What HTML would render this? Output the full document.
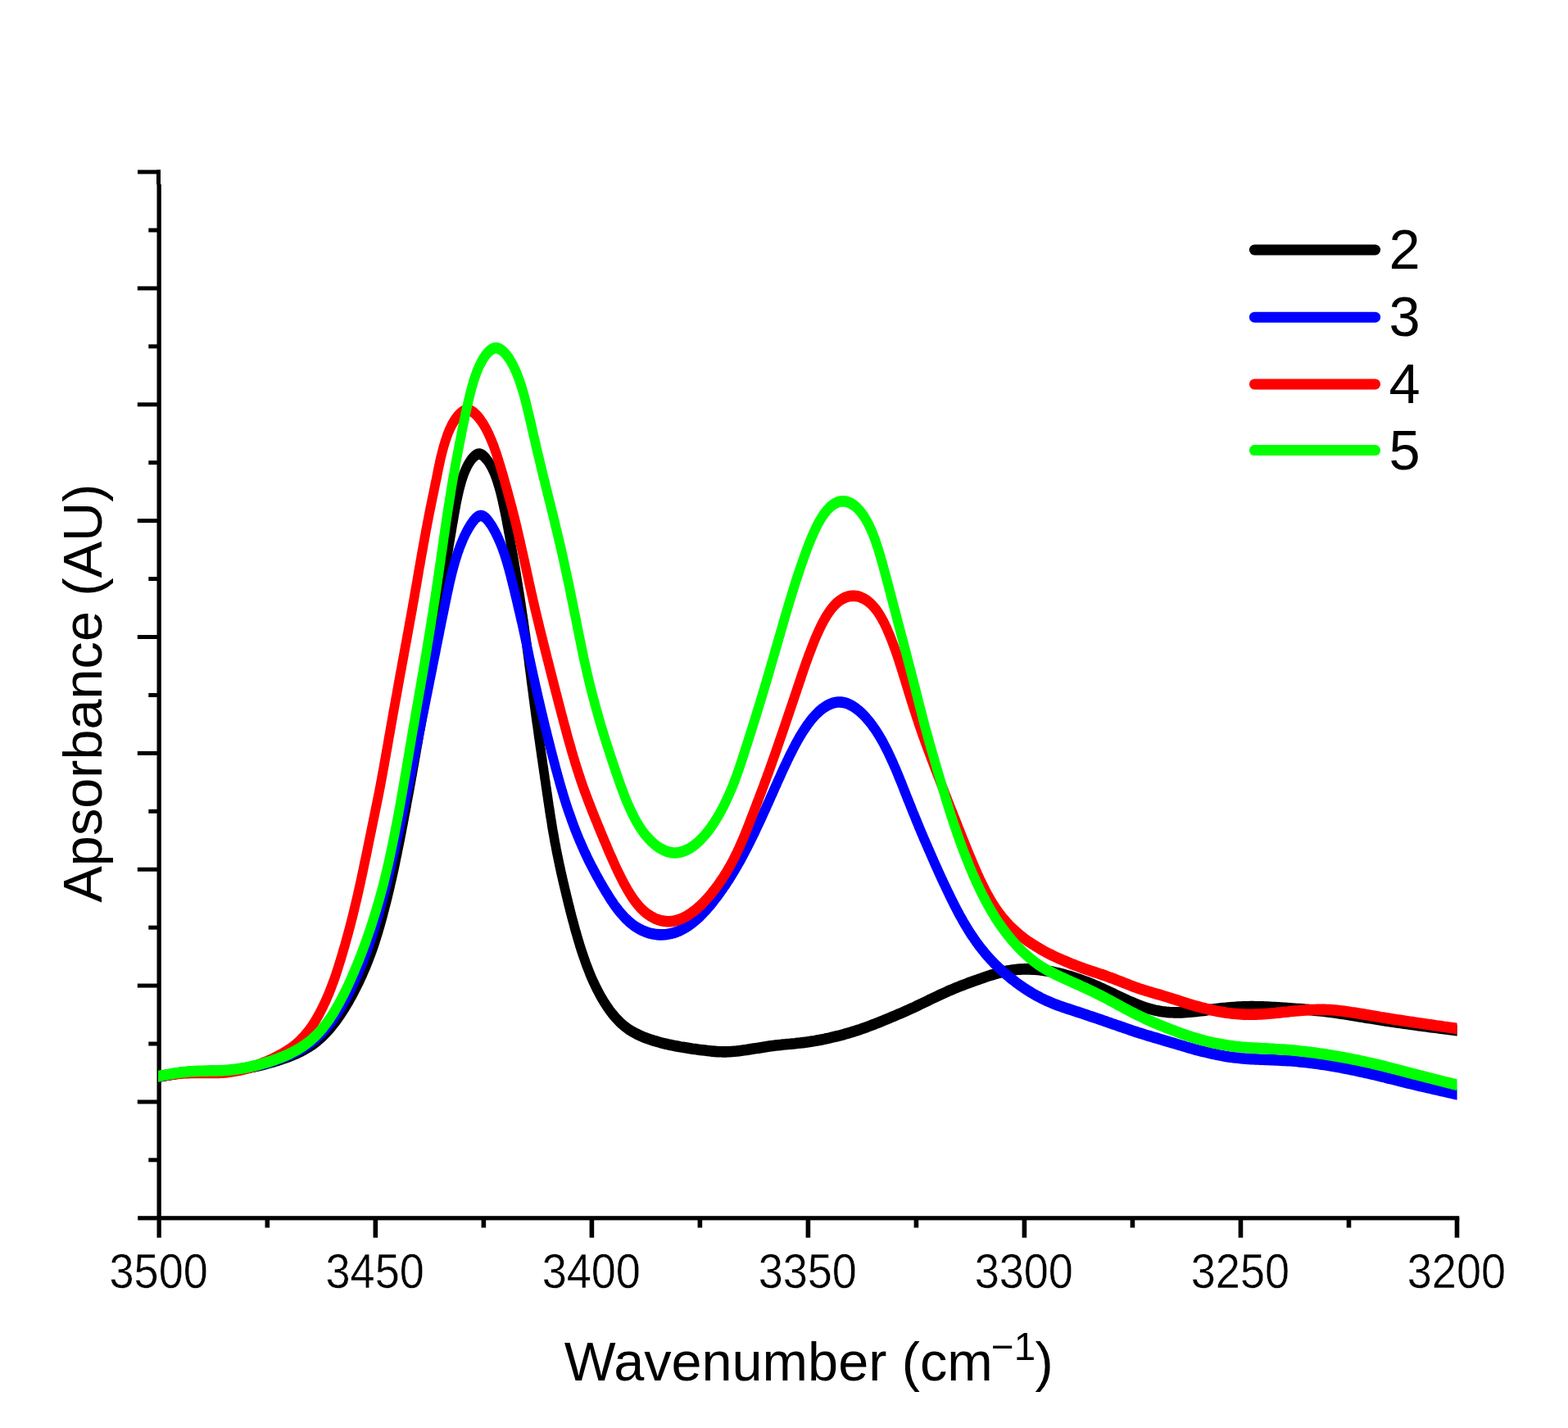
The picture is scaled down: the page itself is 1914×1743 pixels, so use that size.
<!DOCTYPE html>
<html lang="en">
<head>
<meta charset="utf-8">
<title>Absorbance vs Wavenumber</title>
<style>
html,body{margin:0;padding:0;background:#ffffff;}
body{width:1914px;height:1743px;overflow:hidden;font-family:"Liberation Sans",sans-serif;}
svg{display:block;}
</style>
</head>
<body>
<svg width="1914" height="1743" viewBox="0 0 1914 1743" role="img" aria-label="Absorbance versus wavenumber line chart">
<rect width="1914" height="1743" fill="#ffffff"/>
<g fill="#000000" shape-rendering="auto">
<rect x="168" y="207.4" width="28" height="5"/>
<rect x="191" y="207.4" width="5" height="17.8"/>
<rect x="191.50" y="225" width="5.3" height="1285.7"/>
<rect x="168.2" y="1484.20" width="1613.1" height="5.2"/>
<rect x="167.8" y="1342.44" width="26" height="5"/>
<rect x="167.8" y="1200.57" width="26" height="5"/>
<rect x="167.8" y="1058.71" width="26" height="5"/>
<rect x="167.8" y="916.85" width="26" height="5"/>
<rect x="167.8" y="774.99" width="26" height="5"/>
<rect x="167.8" y="633.12" width="26" height="5"/>
<rect x="167.8" y="491.26" width="26" height="5"/>
<rect x="167.8" y="349.40" width="26" height="5"/>
<rect x="181.3" y="1413.37" width="12" height="5"/>
<rect x="181.3" y="1271.51" width="12" height="5"/>
<rect x="181.3" y="1129.64" width="12" height="5"/>
<rect x="181.3" y="987.78" width="12" height="5"/>
<rect x="181.3" y="845.92" width="12" height="5"/>
<rect x="181.3" y="704.06" width="12" height="5"/>
<rect x="181.3" y="562.19" width="12" height="5"/>
<rect x="181.3" y="420.33" width="12" height="5"/>
<rect x="181.3" y="278.47" width="12" height="5"/>
<rect x="455.53" y="1486.8" width="5.6" height="23.9"/>
<rect x="719.57" y="1486.8" width="5.6" height="23.9"/>
<rect x="983.60" y="1486.8" width="5.6" height="23.9"/>
<rect x="1247.63" y="1486.8" width="5.6" height="23.9"/>
<rect x="1511.67" y="1486.8" width="5.6" height="23.9"/>
<rect x="1775.70" y="1486.8" width="5.6" height="23.9"/>
<rect x="323.52" y="1486.8" width="5.6" height="11.7"/>
<rect x="587.55" y="1486.8" width="5.6" height="11.7"/>
<rect x="851.58" y="1486.8" width="5.6" height="11.7"/>
<rect x="1115.62" y="1486.8" width="5.6" height="11.7"/>
<rect x="1379.65" y="1486.8" width="5.6" height="11.7"/>
<rect x="1643.68" y="1486.8" width="5.6" height="11.7"/>
</g>
<clipPath id="c"><rect x="193.1" y="212" width="1585.5" height="1272"/></clipPath>
<g clip-path="url(#c)"><g transform="scale(1,1.17)" fill="none" stroke-linejoin="round" stroke-linecap="butt">
<path d="M185.9,1123.2 L193.9,1123.2 L196.9,1122.7 L199.8,1122.2 L202.8,1121.8 L205.7,1121.3 L208.7,1120.9 L211.6,1120.5 L214.6,1120.1 L217.5,1119.7 L220.5,1119.3 L223.4,1119.0 L226.4,1118.8 L229.4,1118.5 L232.4,1118.3 L235.3,1118.2 L238.3,1118.0 L241.3,1117.9 L244.3,1117.8 L247.3,1117.8 L250.3,1117.7 L253.3,1117.7 L256.3,1117.6 L259.3,1117.6 L262.3,1117.5 L265.3,1117.5 L268.3,1117.4 L271.2,1117.3 L274.2,1117.2 L277.2,1117.0 L280.2,1116.8 L283.2,1116.5 L286.2,1116.3 L289.1,1116.0 L292.1,1115.6 L295.1,1115.3 L298.0,1114.9 L301.0,1114.4 L303.9,1113.9 L306.9,1113.4 L309.8,1112.9 L312.7,1112.3 L315.7,1111.8 L318.6,1111.2 L321.5,1110.5 L324.4,1109.9 L327.3,1109.2 L330.3,1108.5 L333.1,1107.8 L336.0,1107.1 L338.9,1106.3 L341.8,1105.5 L344.7,1104.7 L347.5,1103.9 L350.4,1103.0 L353.2,1102.1 L356.0,1101.2 L358.7,1100.2 L361.5,1099.2 L364.2,1098.2 L366.9,1097.0 L369.5,1095.9 L372.1,1094.7 L374.7,1093.4 L377.2,1092.1 L379.7,1090.7 L382.2,1089.3 L384.5,1087.8 L386.9,1086.3 L389.1,1084.7 L391.4,1083.0 L393.5,1081.3 L395.7,1079.5 L397.7,1077.7 L399.8,1075.9 L401.7,1074.0 L403.7,1072.1 L405.6,1070.1 L407.4,1068.1 L409.3,1066.1 L411.1,1064.0 L412.8,1062.0 L414.5,1059.9 L416.2,1057.7 L417.9,1055.6 L419.5,1053.4 L421.1,1051.2 L422.7,1049.0 L424.2,1046.8 L425.8,1044.6 L427.2,1042.3 L428.7,1040.1 L430.2,1037.8 L431.6,1035.5 L433.0,1033.2 L434.4,1030.9 L435.7,1028.6 L437.1,1026.3 L438.4,1024.0 L439.7,1021.6 L440.9,1019.3 L442.2,1017.0 L443.4,1014.6 L444.6,1012.2 L445.8,1009.9 L447.0,1007.5 L448.1,1005.1 L449.2,1002.7 L450.3,1000.3 L451.4,997.9 L452.5,995.5 L453.5,993.1 L454.5,990.7 L455.5,988.2 L456.5,985.8 L457.4,983.4 L458.3,980.9 L459.2,978.5 L460.1,976.0 L461.0,973.6 L461.9,971.1 L462.7,968.6 L463.6,966.2 L464.4,963.7 L465.2,961.2 L466.0,958.7 L466.8,956.3 L467.6,953.8 L468.3,951.3 L469.1,948.8 L469.8,946.3 L470.6,943.8 L471.3,941.4 L472.1,938.9 L472.8,936.4 L473.5,933.9 L474.2,931.4 L474.9,928.9 L475.6,926.4 L476.3,923.9 L476.9,921.4 L477.6,918.9 L478.3,916.4 L478.9,913.9 L479.6,911.4 L480.2,908.9 L480.9,906.4 L481.5,903.9 L482.1,901.4 L482.7,898.9 L483.3,896.3 L483.9,893.8 L484.6,891.3 L485.1,888.8 L485.7,886.3 L486.3,883.8 L486.9,881.3 L487.5,878.8 L488.1,876.2 L488.7,873.7 L489.2,871.2 L489.8,868.7 L490.4,866.2 L490.9,863.6 L491.5,861.1 L492.1,858.6 L492.6,856.1 L493.2,853.6 L493.7,851.1 L494.3,848.5 L494.9,846.0 L495.4,843.5 L496.0,841.0 L496.5,838.4 L497.0,835.9 L497.6,833.4 L498.1,830.9 L498.7,828.4 L499.2,825.8 L499.8,823.3 L500.3,820.8 L500.8,818.3 L501.4,815.7 L501.9,813.2 L502.4,810.7 L503.0,808.2 L503.5,805.7 L504.0,803.1 L504.5,800.6 L505.1,798.1 L505.6,795.6 L506.1,793.0 L506.6,790.5 L507.2,788.0 L507.7,785.5 L508.2,782.9 L508.7,780.4 L509.2,777.9 L509.8,775.4 L510.3,772.8 L510.8,770.3 L511.3,767.8 L511.8,765.2 L512.3,762.7 L512.9,760.2 L513.4,757.7 L513.9,755.1 L514.4,752.6 L515.0,750.1 L515.5,747.6 L516.0,745.0 L516.5,742.5 L517.1,740.0 L517.6,737.5 L518.1,734.9 L518.6,732.4 L519.2,729.9 L519.7,727.4 L520.2,724.9 L520.7,722.3 L521.2,719.8 L521.8,717.3 L522.3,714.7 L522.8,712.2 L523.3,709.7 L523.8,707.2 L524.3,704.6 L524.8,702.1 L525.3,699.6 L525.8,697.1 L526.2,694.5 L526.7,692.0 L527.2,689.5 L527.6,686.9 L528.1,684.4 L528.5,681.9 L529.0,679.3 L529.4,676.8 L529.9,674.3 L530.3,671.7 L530.7,669.2 L531.2,666.7 L531.6,664.1 L532.0,661.6 L532.4,659.0 L532.9,656.5 L533.3,654.0 L533.7,651.4 L534.1,648.9 L534.5,646.4 L534.9,643.8 L535.3,641.3 L535.8,638.8 L536.2,636.2 L536.6,633.7 L537.0,631.2 L537.4,628.6 L537.8,626.1 L538.2,623.6 L538.6,621.0 L539.1,618.5 L539.5,616.0 L539.9,613.4 L540.3,610.9 L540.8,608.4 L541.2,605.9 L541.6,603.3 L542.1,600.8 L542.5,598.3 L543.0,595.7 L543.5,593.2 L543.9,590.7 L544.4,588.1 L544.9,585.6 L545.4,583.1 L545.9,580.5 L546.3,578.0 L546.8,575.4 L547.3,572.9 L547.8,570.4 L548.3,567.8 L548.8,565.2 L549.3,562.7 L549.8,560.1 L550.3,557.6 L550.8,555.0 L551.3,552.4 L551.8,549.8 L552.3,547.2 L552.9,544.6 L553.4,542.0 L553.9,539.4 L554.4,536.8 L555.0,534.2 L555.5,531.6 L556.1,528.9 L556.6,526.3 L557.2,523.7 L557.9,521.0 L558.5,518.4 L559.2,515.8 L559.9,513.1 L560.6,510.5 L561.4,507.9 L562.2,505.3 L563.0,502.7 L563.9,500.1 L564.9,497.6 L565.9,495.1 L567.0,492.6 L568.2,490.2 L569.5,487.8 L570.8,485.5 L572.3,483.3 L573.9,481.2 L575.6,479.1 L577.4,477.3 L579.4,475.7 L581.4,474.4 L583.4,473.7 L585.5,473.6 L587.6,474.2 L589.7,475.3 L591.6,476.8 L593.5,478.7 L595.3,480.6 L597.0,482.7 L598.5,484.9 L600.0,487.1 L601.3,489.5 L602.6,491.9 L603.8,494.3 L604.9,496.8 L606.0,499.3 L607.0,501.9 L607.9,504.4 L608.8,507.0 L609.7,509.6 L610.5,512.2 L611.3,514.8 L612.0,517.4 L612.7,520.0 L613.5,522.7 L614.1,525.3 L614.8,527.9 L615.4,530.5 L616.1,533.1 L616.7,535.7 L617.3,538.3 L617.9,540.9 L618.5,543.5 L619.0,546.1 L619.6,548.7 L620.2,551.3 L620.7,553.8 L621.3,556.4 L621.9,559.0 L622.4,561.5 L622.9,564.1 L623.5,566.6 L624.0,569.2 L624.6,571.7 L625.1,574.3 L625.6,576.8 L626.1,579.3 L626.7,581.9 L627.2,584.4 L627.7,586.9 L628.2,589.5 L628.7,592.0 L629.2,594.5 L629.7,597.1 L630.2,599.6 L630.6,602.1 L631.1,604.6 L631.6,607.2 L632.1,609.7 L632.5,612.2 L633.0,614.7 L633.5,617.3 L633.9,619.8 L634.4,622.3 L634.8,624.8 L635.3,627.4 L635.8,629.9 L636.2,632.4 L636.6,634.9 L637.1,637.5 L637.5,640.0 L638.0,642.5 L638.4,645.1 L638.8,647.6 L639.3,650.1 L639.7,652.7 L640.1,655.2 L640.5,657.7 L640.9,660.3 L641.4,662.8 L641.8,665.3 L642.2,667.9 L642.6,670.4 L643.0,672.9 L643.3,675.5 L643.7,678.0 L644.1,680.6 L644.5,683.1 L644.9,685.7 L645.3,688.2 L645.7,690.7 L646.0,693.3 L646.4,695.8 L646.8,698.4 L647.2,700.9 L647.6,703.4 L648.0,706.0 L648.3,708.5 L648.7,711.1 L649.1,713.6 L649.5,716.2 L649.9,718.7 L650.3,721.2 L650.7,723.8 L651.0,726.3 L651.4,728.9 L651.8,731.4 L652.2,734.0 L652.6,736.5 L653.0,739.0 L653.4,741.6 L653.8,744.1 L654.2,746.7 L654.6,749.2 L655.0,751.7 L655.4,754.3 L655.9,756.8 L656.3,759.4 L656.7,761.9 L657.1,764.5 L657.5,767.0 L657.9,769.5 L658.4,772.1 L658.8,774.6 L659.2,777.1 L659.6,779.7 L660.1,782.2 L660.5,784.8 L660.9,787.3 L661.3,789.8 L661.8,792.4 L662.2,794.9 L662.6,797.5 L663.1,800.0 L663.5,802.5 L663.9,805.1 L664.4,807.6 L664.8,810.1 L665.2,812.7 L665.7,815.2 L666.1,817.8 L666.5,820.3 L667.0,822.8 L667.4,825.4 L667.8,827.9 L668.3,830.4 L668.7,833.0 L669.1,835.5 L669.6,838.0 L670.0,840.6 L670.5,843.1 L670.9,845.6 L671.4,848.2 L671.8,850.7 L672.3,853.2 L672.8,855.8 L673.3,858.3 L673.7,860.8 L674.2,863.4 L674.7,865.9 L675.2,868.4 L675.8,870.9 L676.3,873.5 L676.8,876.0 L677.3,878.5 L677.9,881.0 L678.5,883.5 L679.0,886.1 L679.6,888.6 L680.2,891.1 L680.8,893.6 L681.4,896.1 L682.0,898.6 L682.6,901.1 L683.2,903.6 L683.9,906.1 L684.5,908.6 L685.1,911.1 L685.8,913.6 L686.5,916.1 L687.1,918.6 L687.8,921.1 L688.5,923.6 L689.2,926.1 L689.9,928.6 L690.6,931.1 L691.3,933.6 L692.0,936.1 L692.7,938.6 L693.4,941.1 L694.1,943.6 L694.9,946.1 L695.6,948.6 L696.3,951.1 L697.1,953.6 L697.8,956.0 L698.6,958.5 L699.4,961.0 L700.2,963.5 L700.9,966.0 L701.7,968.5 L702.5,970.9 L703.4,973.4 L704.2,975.9 L705.0,978.4 L705.9,980.8 L706.8,983.3 L707.6,985.8 L708.5,988.2 L709.4,990.7 L710.4,993.2 L711.3,995.6 L712.3,998.0 L713.3,1000.5 L714.3,1002.9 L715.3,1005.4 L716.4,1007.8 L717.5,1010.2 L718.6,1012.6 L719.7,1015.0 L720.8,1017.4 L722.0,1019.8 L723.2,1022.1 L724.5,1024.5 L725.8,1026.8 L727.1,1029.2 L728.4,1031.5 L729.8,1033.8 L731.2,1036.1 L732.6,1038.3 L734.1,1040.6 L735.6,1042.8 L737.2,1045.0 L738.8,1047.2 L740.4,1049.3 L742.1,1051.4 L743.8,1053.5 L745.6,1055.6 L747.4,1057.6 L749.3,1059.5 L751.2,1061.4 L753.2,1063.3 L755.2,1065.1 L757.3,1066.9 L759.4,1068.5 L761.7,1070.2 L764.0,1071.7 L766.3,1073.2 L768.7,1074.6 L771.2,1075.9 L773.7,1077.1 L776.3,1078.3 L779.0,1079.4 L781.7,1080.5 L784.4,1081.5 L787.2,1082.5 L790.0,1083.4 L792.8,1084.2 L795.6,1085.0 L798.5,1085.8 L801.4,1086.5 L804.3,1087.2 L807.2,1087.9 L810.1,1088.5 L813.1,1089.1 L816.0,1089.7 L819.0,1090.2 L821.9,1090.7 L824.9,1091.2 L827.9,1091.7 L830.8,1092.2 L833.8,1092.6 L836.8,1093.0 L839.8,1093.4 L842.7,1093.8 L845.7,1094.2 L848.7,1094.5 L851.7,1094.9 L854.7,1095.2 L857.6,1095.5 L860.6,1095.8 L863.6,1096.1 L866.6,1096.4 L869.5,1096.7 L872.5,1096.9 L875.5,1097.1 L878.4,1097.2 L881.4,1097.3 L884.3,1097.3 L887.3,1097.3 L890.3,1097.2 L893.2,1097.0 L896.2,1096.8 L899.1,1096.6 L902.1,1096.3 L905.0,1096.0 L908.0,1095.6 L910.9,1095.3 L913.9,1094.9 L916.9,1094.5 L919.8,1094.1 L922.8,1093.7 L925.7,1093.3 L928.7,1092.9 L931.7,1092.5 L934.6,1092.1 L937.6,1091.7 L940.6,1091.3 L943.5,1091.0 L946.5,1090.7 L949.5,1090.4 L952.5,1090.1 L955.5,1089.8 L958.4,1089.6 L961.4,1089.3 L964.4,1089.1 L967.4,1088.8 L970.4,1088.6 L973.4,1088.3 L976.3,1088.1 L979.3,1087.8 L982.3,1087.5 L985.2,1087.1 L988.2,1086.8 L991.2,1086.4 L994.1,1086.0 L997.1,1085.5 L1000.0,1085.1 L1003.0,1084.6 L1005.9,1084.1 L1008.8,1083.5 L1011.8,1083.0 L1014.7,1082.4 L1017.6,1081.8 L1020.5,1081.2 L1023.4,1080.6 L1026.3,1080.0 L1029.2,1079.3 L1032.1,1078.6 L1035.0,1077.9 L1037.9,1077.2 L1040.7,1076.4 L1043.6,1075.7 L1046.4,1074.9 L1049.3,1074.1 L1052.1,1073.2 L1054.9,1072.4 L1057.8,1071.5 L1060.6,1070.6 L1063.4,1069.7 L1066.2,1068.8 L1069.0,1067.9 L1071.8,1066.9 L1074.5,1066.0 L1077.3,1065.0 L1080.1,1064.0 L1082.9,1063.1 L1085.7,1062.1 L1088.4,1061.1 L1091.2,1060.1 L1094.0,1059.1 L1096.7,1058.1 L1099.5,1057.1 L1102.2,1056.1 L1105.0,1055.0 L1107.7,1054.0 L1110.4,1052.9 L1113.2,1051.9 L1115.9,1050.8 L1118.6,1049.7 L1121.3,1048.6 L1124.0,1047.5 L1126.7,1046.4 L1129.4,1045.3 L1132.1,1044.2 L1134.8,1043.0 L1137.5,1041.9 L1140.2,1040.8 L1142.9,1039.7 L1145.7,1038.6 L1148.4,1037.5 L1151.1,1036.5 L1153.8,1035.4 L1156.6,1034.3 L1159.3,1033.3 L1162.1,1032.3 L1164.8,1031.3 L1167.6,1030.3 L1170.4,1029.4 L1173.2,1028.4 L1176.0,1027.5 L1178.8,1026.6 L1181.6,1025.7 L1184.4,1024.8 L1187.3,1023.9 L1190.1,1023.0 L1192.9,1022.2 L1195.8,1021.3 L1198.6,1020.5 L1201.5,1019.6 L1204.3,1018.8 L1207.2,1018.0 L1210.1,1017.2 L1212.9,1016.5 L1215.8,1015.8 L1218.7,1015.1 L1221.6,1014.4 L1224.5,1013.8 L1227.4,1013.3 L1230.3,1012.8 L1233.3,1012.4 L1236.2,1012.0 L1239.1,1011.7 L1242.1,1011.4 L1245.1,1011.2 L1248.0,1011.1 L1251.0,1011.0 L1254.0,1011.0 L1257.0,1011.1 L1259.9,1011.2 L1262.9,1011.3 L1265.9,1011.6 L1268.9,1011.8 L1271.8,1012.1 L1274.8,1012.5 L1277.8,1012.8 L1280.7,1013.3 L1283.7,1013.7 L1286.6,1014.2 L1289.6,1014.8 L1292.5,1015.4 L1295.4,1016.0 L1298.3,1016.6 L1301.2,1017.3 L1304.1,1018.0 L1307.0,1018.7 L1309.9,1019.5 L1312.8,1020.3 L1315.6,1021.1 L1318.5,1021.9 L1321.3,1022.8 L1324.1,1023.7 L1326.9,1024.6 L1329.7,1025.5 L1332.5,1026.5 L1335.3,1027.5 L1338.1,1028.5 L1340.9,1029.5 L1343.6,1030.6 L1346.4,1031.6 L1349.1,1032.7 L1351.8,1033.8 L1354.6,1034.9 L1357.3,1036.0 L1360.0,1037.1 L1362.8,1038.2 L1365.5,1039.3 L1368.2,1040.4 L1370.9,1041.5 L1373.7,1042.6 L1376.4,1043.7 L1379.1,1044.7 L1381.9,1045.7 L1384.6,1046.7 L1387.4,1047.7 L1390.2,1048.6 L1393.0,1049.5 L1395.8,1050.4 L1398.6,1051.2 L1401.5,1052.0 L1404.3,1052.7 L1407.2,1053.3 L1410.0,1053.9 L1412.9,1054.4 L1415.8,1054.9 L1418.8,1055.3 L1421.7,1055.6 L1424.7,1055.9 L1427.6,1056.1 L1430.6,1056.2 L1433.6,1056.3 L1436.5,1056.3 L1439.5,1056.3 L1442.5,1056.3 L1445.5,1056.2 L1448.5,1056.0 L1451.5,1055.8 L1454.5,1055.6 L1457.5,1055.4 L1460.5,1055.1 L1463.5,1054.8 L1466.4,1054.5 L1469.4,1054.2 L1472.4,1053.8 L1475.4,1053.5 L1478.4,1053.2 L1481.4,1052.9 L1484.4,1052.6 L1487.4,1052.3 L1490.4,1052.0 L1493.3,1051.7 L1496.3,1051.5 L1499.3,1051.2 L1502.3,1051.0 L1505.3,1050.8 L1508.3,1050.7 L1511.3,1050.5 L1514.3,1050.4 L1517.3,1050.3 L1520.3,1050.2 L1523.3,1050.2 L1526.3,1050.1 L1529.3,1050.1 L1532.3,1050.2 L1535.3,1050.2 L1538.3,1050.3 L1541.3,1050.3 L1544.3,1050.4 L1547.2,1050.5 L1550.2,1050.6 L1553.2,1050.8 L1556.2,1050.9 L1559.2,1051.1 L1562.2,1051.2 L1565.2,1051.4 L1568.2,1051.5 L1571.2,1051.7 L1574.2,1051.9 L1577.2,1052.1 L1580.2,1052.3 L1583.2,1052.5 L1586.2,1052.6 L1589.2,1052.8 L1592.2,1053.1 L1595.2,1053.3 L1598.2,1053.5 L1601.2,1053.7 L1604.1,1054.0 L1607.1,1054.2 L1610.1,1054.5 L1613.1,1054.7 L1616.1,1055.0 L1619.1,1055.3 L1622.0,1055.6 L1625.0,1056.0 L1628.0,1056.3 L1630.9,1056.7 L1633.9,1057.0 L1636.9,1057.4 L1639.8,1057.8 L1642.8,1058.2 L1645.8,1058.6 L1648.7,1059.0 L1651.7,1059.4 L1654.7,1059.8 L1657.6,1060.2 L1660.6,1060.6 L1663.5,1061.0 L1666.5,1061.5 L1669.5,1061.9 L1672.4,1062.3 L1675.4,1062.7 L1678.3,1063.1 L1681.3,1063.5 L1684.3,1063.9 L1687.2,1064.3 L1690.2,1064.7 L1693.2,1065.1 L1696.1,1065.5 L1699.1,1065.8 L1702.1,1066.2 L1705.0,1066.6 L1708.0,1066.9 L1711.0,1067.3 L1713.9,1067.7 L1716.9,1068.0 L1719.9,1068.4 L1722.9,1068.7 L1725.8,1069.1 L1728.8,1069.4 L1731.8,1069.8 L1734.8,1070.1 L1737.7,1070.5 L1740.7,1070.8 L1743.7,1071.1 L1746.6,1071.5 L1749.6,1071.8 L1752.6,1072.1 L1755.6,1072.5 L1758.5,1072.8 L1761.5,1073.1 L1764.5,1073.4 L1767.5,1073.8 L1770.5,1074.1 L1773.4,1074.4 L1776.4,1074.7 L1778.5,1075.0 L1786.5,1075.0" stroke="#000000" stroke-width="11.6"/>
<path d="M185.9,1123.2 L193.9,1123.2 L196.9,1122.7 L199.8,1122.2 L202.8,1121.8 L205.7,1121.3 L208.7,1120.9 L211.6,1120.5 L214.6,1120.1 L217.5,1119.7 L220.5,1119.3 L223.4,1119.0 L226.4,1118.8 L229.4,1118.5 L232.4,1118.3 L235.3,1118.2 L238.3,1118.1 L241.3,1117.9 L244.3,1117.9 L247.3,1117.8 L250.3,1117.7 L253.3,1117.7 L256.3,1117.6 L259.3,1117.6 L262.3,1117.5 L265.3,1117.5 L268.3,1117.4 L271.3,1117.3 L274.2,1117.1 L277.2,1116.9 L280.2,1116.7 L283.2,1116.5 L286.2,1116.2 L289.1,1115.8 L292.1,1115.5 L295.0,1115.1 L298.0,1114.6 L300.9,1114.2 L303.9,1113.6 L306.8,1113.1 L309.7,1112.5 L312.7,1111.9 L315.6,1111.3 L318.5,1110.7 L321.4,1110.0 L324.3,1109.3 L327.2,1108.6 L330.1,1107.8 L333.0,1107.0 L335.8,1106.2 L338.7,1105.4 L341.5,1104.5 L344.4,1103.6 L347.2,1102.7 L350.0,1101.8 L352.7,1100.8 L355.5,1099.7 L358.2,1098.7 L360.9,1097.5 L363.5,1096.4 L366.2,1095.2 L368.7,1093.9 L371.3,1092.6 L373.8,1091.2 L376.2,1089.8 L378.7,1088.4 L381.0,1086.8 L383.3,1085.3 L385.6,1083.6 L387.8,1082.0 L389.9,1080.2 L392.0,1078.5 L394.1,1076.6 L396.1,1074.8 L398.0,1072.9 L399.9,1070.9 L401.8,1068.9 L403.6,1066.9 L405.4,1064.9 L407.1,1062.8 L408.8,1060.7 L410.5,1058.6 L412.2,1056.4 L413.8,1054.2 L415.3,1052.1 L416.9,1049.9 L418.4,1047.6 L419.9,1045.4 L421.4,1043.1 L422.8,1040.9 L424.3,1038.6 L425.6,1036.3 L427.0,1034.0 L428.4,1031.7 L429.7,1029.4 L431.0,1027.0 L432.3,1024.7 L433.5,1022.3 L434.8,1020.0 L436.0,1017.6 L437.2,1015.2 L438.4,1012.9 L439.6,1010.5 L440.7,1008.1 L441.9,1005.7 L443.0,1003.3 L444.1,1000.9 L445.2,998.5 L446.2,996.1 L447.3,993.7 L448.3,991.2 L449.3,988.8 L450.3,986.4 L451.2,984.0 L452.2,981.5 L453.1,979.1 L454.1,976.6 L455.0,974.2 L455.9,971.7 L456.8,969.3 L457.7,966.8 L458.5,964.4 L459.4,961.9 L460.2,959.4 L461.1,957.0 L461.9,954.5 L462.7,952.0 L463.5,949.6 L464.3,947.1 L465.1,944.6 L465.9,942.1 L466.7,939.7 L467.5,937.2 L468.2,934.7 L469.0,932.2 L469.8,929.7 L470.5,927.2 L471.2,924.8 L472.0,922.3 L472.7,919.8 L473.4,917.3 L474.1,914.8 L474.8,912.3 L475.5,909.8 L476.2,907.3 L476.9,904.8 L477.6,902.3 L478.3,899.8 L478.9,897.3 L479.6,894.8 L480.3,892.3 L480.9,889.8 L481.6,887.3 L482.2,884.8 L482.9,882.3 L483.5,879.8 L484.2,877.3 L484.8,874.8 L485.5,872.3 L486.1,869.8 L486.7,867.3 L487.4,864.8 L488.0,862.3 L488.6,859.8 L489.3,857.3 L489.9,854.8 L490.5,852.3 L491.1,849.7 L491.8,847.2 L492.4,844.7 L493.0,842.2 L493.6,839.7 L494.3,837.2 L494.9,834.7 L495.5,832.2 L496.1,829.7 L496.7,827.2 L497.4,824.7 L498.0,822.2 L498.6,819.6 L499.2,817.1 L499.8,814.6 L500.4,812.1 L501.1,809.6 L501.7,807.1 L502.3,804.6 L502.9,802.1 L503.5,799.6 L504.1,797.0 L504.7,794.5 L505.3,792.0 L505.9,789.5 L506.5,787.0 L507.1,784.5 L507.7,782.0 L508.3,779.5 L508.9,777.0 L509.5,774.4 L510.1,771.9 L510.7,769.4 L511.3,766.9 L511.9,764.4 L512.5,761.9 L513.1,759.4 L513.7,756.8 L514.3,754.3 L514.8,751.8 L515.4,749.3 L516.0,746.8 L516.6,744.3 L517.2,741.8 L517.8,739.3 L518.4,736.7 L519.0,734.2 L519.6,731.7 L520.1,729.2 L520.7,726.7 L521.3,724.2 L521.9,721.7 L522.5,719.1 L523.1,716.6 L523.7,714.1 L524.2,711.6 L524.8,709.1 L525.4,706.6 L526.0,704.1 L526.6,701.6 L527.2,699.1 L527.8,696.5 L528.3,694.0 L528.9,691.5 L529.5,689.0 L530.1,686.5 L530.7,684.0 L531.3,681.5 L531.9,679.0 L532.4,676.5 L533.0,673.9 L533.6,671.4 L534.2,668.9 L534.8,666.4 L535.4,663.9 L536.0,661.4 L536.5,658.9 L537.1,656.4 L537.7,653.9 L538.3,651.4 L538.9,648.8 L539.5,646.3 L540.1,643.8 L540.7,641.3 L541.3,638.8 L541.9,636.3 L542.5,633.8 L543.1,631.2 L543.7,628.7 L544.3,626.2 L544.9,623.7 L545.5,621.2 L546.1,618.6 L546.8,616.1 L547.4,613.6 L548.1,611.0 L548.7,608.5 L549.4,606.0 L550.1,603.4 L550.8,600.9 L551.5,598.4 L552.3,595.8 L553.1,593.3 L553.9,590.7 L554.7,588.2 L555.5,585.7 L556.4,583.1 L557.4,580.6 L558.3,578.0 L559.3,575.5 L560.4,573.0 L561.4,570.4 L562.6,567.9 L563.8,565.4 L565.0,562.9 L566.3,560.4 L567.7,557.9 L569.1,555.5 L570.7,553.0 L572.2,550.7 L573.9,548.3 L575.6,546.1 L577.4,543.9 L579.3,542.0 L581.1,540.3 L583.1,539.1 L585.0,538.2 L587.0,537.9 L588.9,538.2 L590.9,539.1 L592.8,540.3 L594.7,542.0 L596.5,543.9 L598.3,546.1 L600.1,548.3 L601.7,550.7 L603.3,553.0 L604.8,555.5 L606.2,557.9 L607.6,560.4 L608.9,562.9 L610.2,565.4 L611.4,567.9 L612.5,570.4 L613.6,572.9 L614.7,575.5 L615.7,578.0 L616.6,580.5 L617.6,583.1 L618.5,585.6 L619.4,588.2 L620.2,590.7 L621.0,593.2 L621.8,595.8 L622.6,598.3 L623.4,600.8 L624.1,603.4 L624.9,605.9 L625.6,608.4 L626.3,610.9 L627.1,613.4 L627.8,615.9 L628.5,618.5 L629.2,621.0 L629.9,623.5 L630.6,626.0 L631.3,628.5 L631.9,631.0 L632.6,633.5 L633.3,636.0 L634.0,638.5 L634.7,641.0 L635.4,643.5 L636.0,646.0 L636.7,648.4 L637.4,650.9 L638.0,653.4 L638.7,655.9 L639.3,658.4 L639.9,660.9 L640.6,663.4 L641.2,665.9 L641.8,668.4 L642.5,670.9 L643.1,673.4 L643.7,675.9 L644.4,678.4 L645.0,680.9 L645.6,683.4 L646.2,686.0 L646.9,688.5 L647.5,691.0 L648.1,693.5 L648.7,696.0 L649.4,698.5 L650.0,701.0 L650.6,703.5 L651.3,706.0 L651.9,708.5 L652.6,711.0 L653.2,713.5 L653.9,716.0 L654.6,718.5 L655.2,721.0 L655.9,723.5 L656.5,726.0 L657.2,728.5 L657.9,731.0 L658.6,733.4 L659.2,735.9 L659.9,738.4 L660.6,740.9 L661.3,743.4 L662.0,745.9 L662.7,748.4 L663.4,750.9 L664.1,753.4 L664.8,755.9 L665.5,758.4 L666.2,760.9 L667.0,763.4 L667.7,765.9 L668.4,768.4 L669.1,770.8 L669.9,773.3 L670.6,775.8 L671.3,778.3 L672.1,780.8 L672.8,783.3 L673.6,785.8 L674.3,788.2 L675.1,790.7 L675.8,793.2 L676.6,795.7 L677.4,798.2 L678.1,800.6 L678.9,803.1 L679.7,805.6 L680.5,808.1 L681.3,810.5 L682.1,813.0 L682.9,815.5 L683.7,818.0 L684.5,820.4 L685.4,822.9 L686.2,825.3 L687.1,827.8 L687.9,830.2 L688.8,832.7 L689.7,835.1 L690.6,837.6 L691.5,840.0 L692.5,842.5 L693.4,844.9 L694.4,847.3 L695.4,849.7 L696.4,852.1 L697.4,854.6 L698.4,857.0 L699.4,859.4 L700.5,861.8 L701.5,864.2 L702.6,866.6 L703.7,868.9 L704.8,871.3 L706.0,873.7 L707.1,876.1 L708.3,878.4 L709.5,880.8 L710.7,883.1 L711.9,885.5 L713.1,887.8 L714.4,890.1 L715.7,892.4 L717.0,894.8 L718.3,897.1 L719.6,899.4 L721.0,901.7 L722.4,904.0 L723.8,906.2 L725.2,908.5 L726.6,910.8 L728.0,913.1 L729.5,915.3 L731.0,917.6 L732.4,919.9 L733.9,922.1 L735.5,924.3 L737.0,926.6 L738.5,928.8 L740.1,931.0 L741.7,933.2 L743.3,935.4 L744.9,937.6 L746.6,939.8 L748.3,941.9 L750.0,944.1 L751.8,946.2 L753.6,948.2 L755.5,950.3 L757.4,952.3 L759.4,954.2 L761.4,956.1 L763.4,958.0 L765.6,959.7 L767.8,961.5 L770.0,963.1 L772.4,964.7 L774.8,966.2 L777.3,967.5 L779.8,968.8 L782.4,970.0 L785.1,971.1 L787.8,972.0 L790.6,972.9 L793.4,973.6 L796.3,974.2 L799.2,974.6 L802.1,974.9 L805.0,975.1 L807.9,975.1 L810.9,975.0 L813.8,974.7 L816.7,974.3 L819.6,973.8 L822.4,973.2 L825.2,972.4 L828.0,971.5 L830.7,970.4 L833.3,969.3 L835.9,968.1 L838.5,966.8 L841.0,965.4 L843.4,963.9 L845.8,962.4 L848.1,960.7 L850.4,959.1 L852.7,957.3 L854.9,955.6 L857.0,953.8 L859.1,951.9 L861.2,950.0 L863.2,948.1 L865.2,946.1 L867.2,944.2 L869.1,942.2 L871.0,940.1 L872.8,938.1 L874.7,936.0 L876.5,934.0 L878.3,931.9 L880.0,929.8 L881.8,927.7 L883.5,925.5 L885.2,923.4 L886.9,921.3 L888.5,919.1 L890.2,917.0 L891.8,914.8 L893.4,912.6 L894.9,910.4 L896.5,908.2 L898.0,906.0 L899.5,903.8 L901.0,901.5 L902.5,899.3 L904.0,897.1 L905.4,894.8 L906.8,892.6 L908.2,890.3 L909.6,888.0 L911.0,885.8 L912.4,883.5 L913.7,881.2 L915.1,878.9 L916.4,876.6 L917.7,874.3 L919.1,872.0 L920.4,869.7 L921.7,867.4 L922.9,865.1 L924.2,862.8 L925.5,860.5 L926.8,858.1 L928.0,855.8 L929.3,853.5 L930.5,851.2 L931.8,848.8 L933.0,846.5 L934.3,844.2 L935.5,841.8 L936.7,839.5 L938.0,837.1 L939.2,834.8 L940.4,832.4 L941.6,830.1 L942.9,827.7 L944.1,825.4 L945.3,823.0 L946.5,820.7 L947.8,818.3 L949.0,816.0 L950.2,813.6 L951.5,811.3 L952.7,808.9 L954.0,806.5 L955.2,804.2 L956.5,801.8 L957.8,799.5 L959.1,797.1 L960.4,794.8 L961.7,792.4 L963.0,790.1 L964.3,787.7 L965.7,785.4 L967.1,783.1 L968.5,780.7 L969.9,778.4 L971.3,776.1 L972.8,773.8 L974.3,771.5 L975.8,769.2 L977.4,766.9 L979.0,764.7 L980.6,762.5 L982.3,760.3 L984.0,758.1 L985.8,756.0 L987.6,753.8 L989.4,751.8 L991.3,749.8 L993.3,747.8 L995.4,745.9 L997.5,744.1 L999.6,742.3 L1001.9,740.6 L1004.2,739.1 L1006.6,737.7 L1009.1,736.3 L1011.6,735.2 L1014.3,734.2 L1016.9,733.4 L1019.7,732.8 L1022.4,732.5 L1025.2,732.4 L1027.9,732.6 L1030.7,733.1 L1033.4,733.7 L1036.0,734.6 L1038.6,735.7 L1041.2,736.9 L1043.6,738.3 L1046.0,739.8 L1048.4,741.4 L1050.6,743.1 L1052.8,744.8 L1055.0,746.7 L1057.0,748.6 L1059.0,750.6 L1061.0,752.6 L1062.9,754.6 L1064.7,756.7 L1066.5,758.9 L1068.3,761.0 L1070.0,763.2 L1071.6,765.4 L1073.2,767.6 L1074.8,769.9 L1076.3,772.1 L1077.8,774.4 L1079.2,776.7 L1080.6,779.0 L1082.0,781.3 L1083.4,783.7 L1084.7,786.0 L1086.0,788.4 L1087.3,790.7 L1088.5,793.1 L1089.8,795.4 L1091.0,797.8 L1092.2,800.2 L1093.4,802.5 L1094.6,804.9 L1095.7,807.3 L1096.9,809.7 L1098.0,812.1 L1099.2,814.5 L1100.3,816.8 L1101.4,819.2 L1102.5,821.6 L1103.6,824.0 L1104.7,826.4 L1105.8,828.8 L1106.9,831.2 L1108.0,833.6 L1109.2,836.0 L1110.3,838.3 L1111.4,840.7 L1112.5,843.1 L1113.6,845.5 L1114.7,847.9 L1115.9,850.2 L1117.0,852.6 L1118.1,855.0 L1119.3,857.4 L1120.4,859.7 L1121.5,862.1 L1122.7,864.5 L1123.8,866.8 L1125.0,869.2 L1126.2,871.5 L1127.3,873.9 L1128.5,876.3 L1129.7,878.6 L1130.9,881.0 L1132.1,883.3 L1133.3,885.7 L1134.5,888.0 L1135.7,890.4 L1136.9,892.7 L1138.1,895.1 L1139.3,897.4 L1140.5,899.8 L1141.7,902.1 L1143.0,904.5 L1144.2,906.8 L1145.4,909.1 L1146.7,911.5 L1147.9,913.8 L1149.2,916.2 L1150.5,918.5 L1151.7,920.8 L1153.0,923.1 L1154.3,925.5 L1155.6,927.8 L1156.9,930.1 L1158.2,932.4 L1159.5,934.7 L1160.8,937.0 L1162.1,939.3 L1163.5,941.6 L1164.8,943.9 L1166.2,946.2 L1167.6,948.5 L1169.0,950.8 L1170.4,953.0 L1171.8,955.3 L1173.3,957.5 L1174.8,959.8 L1176.2,962.0 L1177.7,964.2 L1179.3,966.4 L1180.8,968.6 L1182.4,970.8 L1184.0,973.0 L1185.6,975.1 L1187.3,977.2 L1189.0,979.3 L1190.7,981.4 L1192.4,983.5 L1194.2,985.6 L1196.0,987.6 L1197.8,989.6 L1199.7,991.6 L1201.6,993.6 L1203.5,995.6 L1205.5,997.5 L1207.5,999.4 L1209.5,1001.3 L1211.6,1003.2 L1213.6,1005.0 L1215.7,1006.8 L1217.9,1008.6 L1220.1,1010.4 L1222.3,1012.1 L1224.5,1013.8 L1226.7,1015.5 L1229.0,1017.2 L1231.3,1018.8 L1233.6,1020.5 L1236.0,1022.1 L1238.4,1023.6 L1240.8,1025.2 L1243.2,1026.7 L1245.6,1028.2 L1248.1,1029.6 L1250.6,1031.1 L1253.1,1032.5 L1255.6,1033.9 L1258.2,1035.2 L1260.7,1036.5 L1263.3,1037.8 L1265.9,1039.0 L1268.6,1040.2 L1271.2,1041.4 L1273.9,1042.5 L1276.6,1043.6 L1279.3,1044.6 L1282.1,1045.6 L1284.8,1046.6 L1287.6,1047.6 L1290.4,1048.5 L1293.2,1049.4 L1296.0,1050.2 L1298.9,1051.1 L1301.7,1051.9 L1304.6,1052.7 L1307.4,1053.5 L1310.3,1054.3 L1313.1,1055.1 L1316.0,1055.9 L1318.8,1056.7 L1321.7,1057.5 L1324.5,1058.3 L1327.4,1059.1 L1330.2,1060.0 L1333.1,1060.8 L1335.9,1061.6 L1338.8,1062.4 L1341.6,1063.2 L1344.5,1064.0 L1347.3,1064.9 L1350.2,1065.7 L1353.0,1066.6 L1355.8,1067.4 L1358.7,1068.3 L1361.5,1069.1 L1364.3,1070.0 L1367.2,1070.8 L1370.0,1071.6 L1372.8,1072.5 L1375.7,1073.3 L1378.5,1074.1 L1381.3,1075.0 L1384.2,1075.8 L1387.0,1076.6 L1389.9,1077.4 L1392.7,1078.1 L1395.6,1078.9 L1398.5,1079.7 L1401.3,1080.4 L1404.2,1081.1 L1407.1,1081.9 L1409.9,1082.6 L1412.8,1083.3 L1415.7,1084.0 L1418.6,1084.8 L1421.5,1085.5 L1424.3,1086.2 L1427.2,1086.9 L1430.1,1087.7 L1433.0,1088.4 L1435.8,1089.1 L1438.7,1089.9 L1441.6,1090.6 L1444.5,1091.3 L1447.4,1092.1 L1450.2,1092.8 L1453.1,1093.5 L1456.0,1094.2 L1458.9,1094.9 L1461.8,1095.5 L1464.7,1096.2 L1467.6,1096.8 L1470.5,1097.4 L1473.4,1098.0 L1476.4,1098.6 L1479.3,1099.2 L1482.2,1099.7 L1485.1,1100.2 L1488.1,1100.7 L1491.0,1101.2 L1494.0,1101.7 L1496.9,1102.1 L1499.9,1102.5 L1502.8,1102.8 L1505.8,1103.2 L1508.8,1103.5 L1511.8,1103.7 L1514.7,1104.0 L1517.7,1104.2 L1520.7,1104.4 L1523.7,1104.6 L1526.7,1104.8 L1529.7,1104.9 L1532.7,1105.1 L1535.7,1105.2 L1538.7,1105.3 L1541.7,1105.4 L1544.7,1105.5 L1547.7,1105.6 L1550.7,1105.7 L1553.7,1105.8 L1556.7,1105.9 L1559.7,1106.0 L1562.7,1106.2 L1565.7,1106.3 L1568.7,1106.4 L1571.7,1106.6 L1574.7,1106.7 L1577.7,1106.9 L1580.6,1107.1 L1583.6,1107.3 L1586.6,1107.6 L1589.6,1107.8 L1592.6,1108.1 L1595.6,1108.4 L1598.5,1108.7 L1601.5,1109.0 L1604.5,1109.3 L1607.5,1109.7 L1610.4,1110.0 L1613.4,1110.4 L1616.4,1110.8 L1619.3,1111.2 L1622.3,1111.6 L1625.2,1112.0 L1628.2,1112.4 L1631.2,1112.9 L1634.1,1113.3 L1637.1,1113.8 L1640.0,1114.3 L1642.9,1114.8 L1645.9,1115.3 L1648.8,1115.8 L1651.8,1116.3 L1654.7,1116.8 L1657.6,1117.4 L1660.6,1117.9 L1663.5,1118.5 L1666.4,1119.0 L1669.4,1119.6 L1672.3,1120.2 L1675.2,1120.7 L1678.1,1121.3 L1681.1,1121.9 L1684.0,1122.5 L1686.9,1123.1 L1689.8,1123.7 L1692.7,1124.4 L1695.6,1125.0 L1698.5,1125.6 L1701.5,1126.2 L1704.4,1126.8 L1707.3,1127.4 L1710.2,1128.1 L1713.1,1128.7 L1716.0,1129.3 L1718.9,1129.9 L1721.8,1130.5 L1724.8,1131.1 L1727.7,1131.7 L1730.6,1132.3 L1733.5,1132.9 L1736.4,1133.5 L1739.4,1134.1 L1742.3,1134.6 L1745.2,1135.2 L1748.1,1135.8 L1751.0,1136.4 L1754.0,1136.9 L1756.9,1137.5 L1759.8,1138.1 L1762.7,1138.6 L1765.7,1139.2 L1768.6,1139.8 L1771.5,1140.3 L1774.5,1140.9 L1777.4,1141.4 L1778.5,1141.7 L1786.5,1141.7" stroke="#0000ff" stroke-width="11.6"/>
<path d="M185.9,1122.8 L193.9,1122.8 L196.9,1122.4 L199.8,1122.0 L202.8,1121.6 L205.7,1121.3 L208.7,1120.9 L211.7,1120.6 L214.6,1120.3 L217.6,1120.0 L220.5,1119.8 L223.5,1119.6 L226.5,1119.5 L229.5,1119.4 L232.4,1119.3 L235.4,1119.3 L238.4,1119.3 L241.4,1119.3 L244.4,1119.3 L247.4,1119.3 L250.4,1119.3 L253.4,1119.3 L256.4,1119.3 L259.4,1119.3 L262.4,1119.3 L265.4,1119.2 L268.3,1119.1 L271.3,1118.9 L274.3,1118.7 L277.3,1118.5 L280.3,1118.2 L283.2,1117.8 L286.2,1117.4 L289.1,1117.0 L292.1,1116.5 L295.0,1115.9 L297.9,1115.3 L300.8,1114.7 L303.7,1114.0 L306.6,1113.3 L309.5,1112.5 L312.3,1111.7 L315.2,1110.9 L318.0,1110.0 L320.8,1109.0 L323.6,1108.1 L326.4,1107.1 L329.1,1106.0 L331.9,1105.0 L334.6,1103.8 L337.3,1102.7 L339.9,1101.5 L342.6,1100.3 L345.2,1099.0 L347.7,1097.7 L350.2,1096.4 L352.7,1095.0 L355.1,1093.5 L357.5,1092.0 L359.8,1090.5 L362.1,1088.8 L364.2,1087.2 L366.4,1085.4 L368.4,1083.6 L370.4,1081.8 L372.4,1079.9 L374.2,1078.0 L376.1,1076.0 L377.8,1074.0 L379.6,1072.0 L381.2,1069.9 L382.9,1067.8 L384.4,1065.6 L386.0,1063.4 L387.4,1061.2 L388.9,1059.0 L390.3,1056.8 L391.7,1054.5 L393.0,1052.2 L394.4,1049.9 L395.6,1047.6 L396.9,1045.3 L398.1,1043.0 L399.3,1040.6 L400.5,1038.2 L401.7,1035.9 L402.8,1033.5 L403.9,1031.1 L405.0,1028.6 L406.0,1026.2 L407.1,1023.8 L408.1,1021.4 L409.1,1018.9 L410.1,1016.5 L411.0,1014.0 L412.0,1011.5 L412.9,1009.0 L413.8,1006.6 L414.7,1004.1 L415.6,1001.6 L416.5,999.1 L417.4,996.6 L418.2,994.1 L419.1,991.6 L419.9,989.1 L420.8,986.7 L421.6,984.2 L422.4,981.7 L423.2,979.2 L424.0,976.7 L424.8,974.2 L425.6,971.7 L426.4,969.2 L427.2,966.7 L427.9,964.2 L428.7,961.7 L429.4,959.2 L430.2,956.7 L430.9,954.2 L431.6,951.7 L432.3,949.2 L433.0,946.7 L433.7,944.2 L434.4,941.7 L435.1,939.2 L435.8,936.7 L436.5,934.2 L437.1,931.7 L437.8,929.2 L438.4,926.7 L439.1,924.2 L439.7,921.7 L440.4,919.2 L441.0,916.7 L441.6,914.2 L442.3,911.6 L442.9,909.1 L443.5,906.6 L444.1,904.1 L444.7,901.6 L445.3,899.1 L446.0,896.6 L446.6,894.1 L447.2,891.6 L447.8,889.1 L448.4,886.6 L449.0,884.0 L449.6,881.5 L450.2,879.0 L450.8,876.5 L451.4,874.0 L452.0,871.5 L452.6,869.0 L453.2,866.5 L453.8,864.0 L454.4,861.5 L455.0,858.9 L455.6,856.4 L456.2,853.9 L456.8,851.4 L457.4,848.9 L458.0,846.4 L458.6,843.9 L459.2,841.4 L459.8,838.9 L460.4,836.3 L461.0,833.8 L461.6,831.3 L462.2,828.8 L462.8,826.3 L463.3,823.8 L463.9,821.3 L464.5,818.7 L465.0,816.2 L465.6,813.7 L466.1,811.2 L466.6,808.7 L467.2,806.1 L467.7,803.6 L468.3,801.1 L468.8,798.6 L469.3,796.1 L469.8,793.5 L470.4,791.0 L470.9,788.5 L471.4,786.0 L471.9,783.4 L472.5,780.9 L473.0,778.4 L473.5,775.9 L474.0,773.3 L474.5,770.8 L475.0,768.3 L475.6,765.8 L476.1,763.2 L476.6,760.7 L477.1,758.2 L477.6,755.6 L478.2,753.1 L478.7,750.6 L479.2,748.1 L479.7,745.5 L480.2,743.0 L480.8,740.5 L481.3,738.0 L481.8,735.4 L482.4,732.9 L482.9,730.4 L483.4,727.9 L484.0,725.4 L484.5,722.8 L485.0,720.3 L485.6,717.8 L486.1,715.3 L486.6,712.7 L487.2,710.2 L487.7,707.7 L488.2,705.2 L488.8,702.6 L489.3,700.1 L489.9,697.6 L490.4,695.1 L490.9,692.6 L491.5,690.0 L492.0,687.5 L492.6,685.0 L493.1,682.5 L493.6,679.9 L494.2,677.4 L494.7,674.9 L495.3,672.4 L495.8,669.9 L496.4,667.3 L496.9,664.8 L497.4,662.3 L498.0,659.8 L498.5,657.3 L499.0,654.7 L499.6,652.2 L500.1,649.7 L500.6,647.2 L501.2,644.6 L501.7,642.1 L502.2,639.6 L502.8,637.1 L503.3,634.6 L503.8,632.0 L504.3,629.5 L504.9,627.0 L505.4,624.5 L505.9,622.0 L506.4,619.4 L506.9,616.9 L507.4,614.4 L508.0,611.9 L508.5,609.3 L509.0,606.8 L509.5,604.3 L510.0,601.8 L510.5,599.3 L511.0,596.7 L511.5,594.2 L512.0,591.7 L512.6,589.2 L513.1,586.6 L513.6,584.1 L514.1,581.6 L514.6,579.1 L515.1,576.6 L515.7,574.0 L516.2,571.5 L516.7,569.0 L517.2,566.5 L517.8,564.0 L518.3,561.4 L518.9,558.9 L519.4,556.4 L519.9,553.9 L520.5,551.3 L521.1,548.8 L521.6,546.3 L522.2,543.8 L522.8,541.2 L523.3,538.7 L523.9,536.2 L524.5,533.6 L525.1,531.1 L525.7,528.6 L526.3,526.0 L526.9,523.5 L527.5,520.9 L528.1,518.4 L528.8,515.8 L529.4,513.2 L530.0,510.7 L530.6,508.1 L531.2,505.5 L531.8,503.0 L532.5,500.4 L533.1,497.8 L533.7,495.2 L534.3,492.6 L534.9,490.0 L535.5,487.4 L536.2,484.8 L536.9,482.1 L537.5,479.5 L538.2,476.9 L539.0,474.3 L539.7,471.8 L540.5,469.2 L541.3,466.6 L542.2,464.0 L543.1,461.5 L544.1,458.9 L545.1,456.4 L546.1,453.9 L547.2,451.4 L548.4,448.9 L549.7,446.5 L551.0,444.2 L552.5,441.8 L554.1,439.6 L555.7,437.4 L557.5,435.3 L559.4,433.4 L561.4,431.6 L563.5,430.1 L565.6,428.9 L567.8,428.1 L570.0,427.8 L572.2,427.9 L574.4,428.4 L576.5,429.4 L578.7,430.7 L580.8,432.3 L582.8,434.1 L584.7,436.0 L586.6,438.1 L588.3,440.3 L590.0,442.5 L591.6,444.8 L593.1,447.1 L594.6,449.5 L596.0,451.9 L597.3,454.4 L598.6,456.9 L599.8,459.3 L601.0,461.9 L602.2,464.4 L603.3,466.9 L604.3,469.4 L605.4,472.0 L606.4,474.5 L607.3,477.1 L608.3,479.7 L609.2,482.2 L610.1,484.8 L611.0,487.3 L611.9,489.9 L612.8,492.4 L613.7,495.0 L614.5,497.5 L615.4,500.1 L616.2,502.6 L617.0,505.1 L617.9,507.6 L618.7,510.2 L619.5,512.7 L620.3,515.2 L621.1,517.7 L621.9,520.2 L622.7,522.7 L623.4,525.2 L624.2,527.7 L625.0,530.2 L625.7,532.7 L626.5,535.2 L627.2,537.7 L627.9,540.1 L628.7,542.6 L629.4,545.1 L630.1,547.6 L630.8,550.1 L631.5,552.6 L632.2,555.1 L632.8,557.6 L633.5,560.1 L634.2,562.6 L634.9,565.1 L635.5,567.6 L636.2,570.0 L636.8,572.5 L637.5,575.0 L638.1,577.5 L638.8,580.0 L639.4,582.5 L640.1,585.0 L640.7,587.5 L641.4,590.0 L642.0,592.5 L642.6,595.0 L643.3,597.5 L643.9,600.0 L644.6,602.5 L645.2,605.0 L645.8,607.5 L646.5,610.0 L647.1,612.5 L647.8,615.0 L648.4,617.5 L649.1,620.0 L649.8,622.5 L650.4,625.0 L651.1,627.5 L651.8,630.0 L652.4,632.5 L653.1,635.0 L653.8,637.5 L654.5,640.0 L655.2,642.5 L655.9,644.9 L656.6,647.4 L657.3,649.9 L658.0,652.4 L658.7,654.9 L659.4,657.4 L660.1,659.9 L660.9,662.4 L661.6,664.9 L662.3,667.4 L663.0,669.8 L663.7,672.3 L664.5,674.8 L665.2,677.3 L665.9,679.8 L666.7,682.3 L667.4,684.8 L668.1,687.3 L668.9,689.7 L669.6,692.2 L670.4,694.7 L671.1,697.2 L671.8,699.7 L672.6,702.2 L673.3,704.7 L674.1,707.1 L674.8,709.6 L675.5,712.1 L676.3,714.6 L677.0,717.1 L677.8,719.6 L678.5,722.1 L679.3,724.5 L680.0,727.0 L680.8,729.5 L681.5,732.0 L682.3,734.5 L683.1,737.0 L683.8,739.4 L684.6,741.9 L685.3,744.4 L686.1,746.9 L686.9,749.4 L687.6,751.8 L688.4,754.3 L689.2,756.8 L690.0,759.3 L690.8,761.7 L691.5,764.2 L692.3,766.7 L693.1,769.2 L693.9,771.6 L694.7,774.1 L695.6,776.6 L696.4,779.0 L697.2,781.5 L698.0,784.0 L698.9,786.4 L699.7,788.9 L700.6,791.3 L701.4,793.8 L702.3,796.2 L703.2,798.7 L704.1,801.1 L705.0,803.5 L705.9,806.0 L706.8,808.4 L707.8,810.8 L708.7,813.3 L709.7,815.7 L710.6,818.1 L711.6,820.5 L712.6,822.9 L713.6,825.3 L714.7,827.7 L715.7,830.1 L716.8,832.5 L717.8,834.9 L718.9,837.3 L720.0,839.7 L721.1,842.1 L722.2,844.5 L723.3,846.9 L724.4,849.2 L725.5,851.6 L726.6,854.0 L727.8,856.4 L728.9,858.8 L730.0,861.2 L731.2,863.5 L732.3,865.9 L733.5,868.3 L734.6,870.7 L735.8,873.1 L736.9,875.4 L738.1,877.8 L739.3,880.2 L740.5,882.6 L741.6,884.9 L742.8,887.3 L744.0,889.7 L745.2,892.1 L746.5,894.5 L747.7,896.8 L748.9,899.2 L750.2,901.6 L751.4,903.9 L752.7,906.3 L754.0,908.6 L755.3,911.0 L756.7,913.3 L758.0,915.6 L759.4,917.9 L760.8,920.3 L762.2,922.5 L763.7,924.8 L765.2,927.1 L766.7,929.3 L768.3,931.6 L769.9,933.7 L771.5,935.9 L773.3,938.0 L775.0,940.1 L776.9,942.2 L778.8,944.1 L780.7,946.1 L782.8,947.9 L784.9,949.7 L787.1,951.4 L789.4,953.0 L791.8,954.4 L794.3,955.8 L796.8,957.0 L799.4,958.2 L802.1,959.1 L804.8,959.9 L807.6,960.5 L810.4,961.0 L813.3,961.2 L816.2,961.3 L819.0,961.2 L821.9,960.9 L824.7,960.4 L827.5,959.7 L830.2,958.9 L832.9,957.9 L835.6,956.8 L838.2,955.6 L840.7,954.3 L843.2,952.8 L845.6,951.3 L848.0,949.8 L850.4,948.1 L852.7,946.4 L854.9,944.7 L857.1,942.9 L859.2,941.0 L861.3,939.1 L863.4,937.2 L865.4,935.2 L867.3,933.3 L869.2,931.2 L871.1,929.2 L873.0,927.1 L874.8,925.1 L876.6,923.0 L878.3,920.8 L880.0,918.7 L881.7,916.6 L883.4,914.4 L885.0,912.2 L886.6,910.0 L888.1,907.8 L889.6,905.6 L891.1,903.4 L892.6,901.1 L894.0,898.9 L895.4,896.6 L896.7,894.3 L898.0,892.0 L899.4,889.7 L900.6,887.4 L901.9,885.1 L903.1,882.7 L904.3,880.4 L905.5,878.0 L906.7,875.7 L907.9,873.3 L909.0,870.9 L910.1,868.6 L911.3,866.2 L912.4,863.8 L913.5,861.4 L914.6,859.0 L915.6,856.6 L916.7,854.2 L917.8,851.8 L918.9,849.4 L920.0,847.0 L921.0,844.6 L922.1,842.3 L923.2,839.9 L924.2,837.5 L925.3,835.1 L926.4,832.7 L927.4,830.3 L928.5,827.9 L929.6,825.5 L930.6,823.1 L931.7,820.7 L932.7,818.3 L933.7,815.9 L934.8,813.5 L935.8,811.1 L936.8,808.7 L937.9,806.3 L938.9,803.8 L939.9,801.4 L940.9,799.0 L941.9,796.6 L942.9,794.2 L943.9,791.8 L944.9,789.4 L945.9,786.9 L946.9,784.5 L947.9,782.1 L948.8,779.7 L949.8,777.3 L950.8,774.8 L951.8,772.4 L952.7,770.0 L953.7,767.6 L954.7,765.1 L955.7,762.7 L956.6,760.3 L957.6,757.9 L958.6,755.4 L959.5,753.0 L960.5,750.6 L961.5,748.1 L962.4,745.7 L963.4,743.3 L964.4,740.8 L965.3,738.4 L966.3,735.9 L967.3,733.5 L968.2,731.1 L969.2,728.6 L970.1,726.2 L971.1,723.7 L972.1,721.3 L973.0,718.8 L974.0,716.4 L975.0,713.9 L975.9,711.4 L976.9,709.0 L977.9,706.5 L978.8,704.0 L979.8,701.6 L980.8,699.1 L981.8,696.6 L982.8,694.2 L983.8,691.7 L984.8,689.2 L985.9,686.8 L986.9,684.3 L988.0,681.9 L989.1,679.4 L990.2,677.0 L991.3,674.5 L992.4,672.1 L993.6,669.6 L994.7,667.2 L995.9,664.8 L997.1,662.4 L998.4,660.0 L999.6,657.6 L1001.0,655.2 L1002.3,652.8 L1003.7,650.5 L1005.1,648.2 L1006.6,645.9 L1008.1,643.6 L1009.7,641.4 L1011.4,639.3 L1013.1,637.2 L1014.9,635.1 L1016.8,633.2 L1018.8,631.3 L1020.8,629.5 L1023.0,627.9 L1025.3,626.4 L1027.7,625.1 L1030.1,623.9 L1032.7,623.0 L1035.4,622.2 L1038.1,621.8 L1040.8,621.6 L1043.6,621.7 L1046.4,622.0 L1049.1,622.6 L1051.7,623.5 L1054.3,624.5 L1056.8,625.7 L1059.2,627.1 L1061.5,628.7 L1063.6,630.4 L1065.7,632.2 L1067.6,634.1 L1069.5,636.1 L1071.3,638.2 L1072.9,640.3 L1074.5,642.5 L1076.1,644.8 L1077.5,647.1 L1079.0,649.4 L1080.3,651.7 L1081.6,654.1 L1082.9,656.5 L1084.1,658.9 L1085.3,661.3 L1086.5,663.7 L1087.6,666.2 L1088.7,668.6 L1089.8,671.1 L1090.9,673.5 L1091.9,676.0 L1093.0,678.4 L1094.0,680.9 L1095.0,683.4 L1095.9,685.8 L1096.9,688.3 L1097.8,690.8 L1098.8,693.3 L1099.7,695.7 L1100.6,698.2 L1101.5,700.7 L1102.4,703.2 L1103.3,705.7 L1104.2,708.1 L1105.1,710.6 L1106.0,713.1 L1106.9,715.6 L1107.8,718.0 L1108.6,720.5 L1109.5,723.0 L1110.4,725.4 L1111.3,727.9 L1112.2,730.3 L1113.1,732.8 L1114.0,735.2 L1114.9,737.7 L1115.8,740.1 L1116.8,742.6 L1117.7,745.0 L1118.6,747.5 L1119.6,749.9 L1120.5,752.3 L1121.5,754.8 L1122.4,757.2 L1123.4,759.6 L1124.4,762.0 L1125.4,764.5 L1126.3,766.9 L1127.4,769.3 L1128.4,771.7 L1129.4,774.1 L1130.4,776.5 L1131.5,778.9 L1132.5,781.3 L1133.6,783.7 L1134.6,786.1 L1135.7,788.5 L1136.7,790.9 L1137.8,793.3 L1138.9,795.7 L1139.9,798.1 L1141.0,800.5 L1142.1,802.8 L1143.2,805.2 L1144.2,807.6 L1145.3,810.0 L1146.4,812.4 L1147.5,814.8 L1148.6,817.2 L1149.7,819.6 L1150.8,822.0 L1151.9,824.3 L1152.9,826.7 L1154.0,829.1 L1155.1,831.5 L1156.2,833.9 L1157.3,836.3 L1158.4,838.7 L1159.5,841.1 L1160.6,843.4 L1161.7,845.8 L1162.8,848.2 L1163.9,850.6 L1165.0,853.0 L1166.2,855.4 L1167.3,857.8 L1168.4,860.2 L1169.5,862.6 L1170.6,865.0 L1171.7,867.3 L1172.8,869.7 L1173.9,872.1 L1175.0,874.5 L1176.2,876.9 L1177.3,879.3 L1178.4,881.7 L1179.5,884.1 L1180.7,886.5 L1181.8,888.9 L1182.9,891.2 L1184.1,893.6 L1185.3,896.0 L1186.4,898.4 L1187.6,900.8 L1188.8,903.1 L1190.0,905.5 L1191.2,907.9 L1192.4,910.2 L1193.6,912.6 L1194.9,914.9 L1196.1,917.3 L1197.4,919.6 L1198.7,921.9 L1200.0,924.2 L1201.4,926.5 L1202.7,928.8 L1204.1,931.1 L1205.5,933.4 L1207.0,935.6 L1208.5,937.8 L1210.0,940.0 L1211.5,942.2 L1213.1,944.4 L1214.7,946.5 L1216.3,948.6 L1218.0,950.7 L1219.8,952.8 L1221.6,954.8 L1223.4,956.8 L1225.3,958.7 L1227.2,960.7 L1229.2,962.6 L1231.2,964.4 L1233.2,966.3 L1235.3,968.1 L1237.5,969.8 L1239.7,971.5 L1241.9,973.2 L1244.2,974.9 L1246.5,976.5 L1248.8,978.1 L1251.2,979.6 L1253.6,981.1 L1256.0,982.6 L1258.5,984.0 L1261.0,985.4 L1263.6,986.8 L1266.1,988.1 L1268.7,989.4 L1271.3,990.7 L1273.9,992.0 L1276.5,993.2 L1279.2,994.4 L1281.9,995.6 L1284.6,996.7 L1287.3,997.8 L1290.0,998.9 L1292.7,1000.0 L1295.5,1001.0 L1298.2,1002.0 L1301.0,1003.0 L1303.8,1004.0 L1306.5,1005.0 L1309.3,1006.0 L1312.1,1006.9 L1314.9,1007.8 L1317.7,1008.7 L1320.5,1009.6 L1323.3,1010.5 L1326.2,1011.3 L1329.0,1012.1 L1331.8,1013.0 L1334.7,1013.8 L1337.5,1014.6 L1340.4,1015.4 L1343.2,1016.2 L1346.0,1017.0 L1348.8,1017.8 L1351.7,1018.7 L1354.5,1019.6 L1357.3,1020.4 L1360.1,1021.3 L1362.8,1022.3 L1365.6,1023.2 L1368.4,1024.1 L1371.2,1025.1 L1373.9,1026.0 L1376.7,1026.9 L1379.5,1027.9 L1382.3,1028.8 L1385.1,1029.7 L1387.9,1030.5 L1390.7,1031.4 L1393.5,1032.2 L1396.3,1032.9 L1399.2,1033.7 L1402.0,1034.4 L1404.9,1035.1 L1407.7,1035.9 L1410.6,1036.6 L1413.5,1037.3 L1416.4,1038.0 L1419.2,1038.7 L1422.1,1039.5 L1424.9,1040.2 L1427.8,1041.0 L1430.7,1041.8 L1433.5,1042.5 L1436.4,1043.3 L1439.2,1044.1 L1442.1,1044.9 L1444.9,1045.7 L1447.8,1046.5 L1450.7,1047.2 L1453.5,1048.0 L1456.4,1048.7 L1459.3,1049.4 L1462.2,1050.1 L1465.1,1050.8 L1468.0,1051.5 L1470.9,1052.1 L1473.8,1052.7 L1476.7,1053.3 L1479.6,1053.9 L1482.6,1054.4 L1485.5,1054.9 L1488.4,1055.4 L1491.4,1055.8 L1494.3,1056.2 L1497.3,1056.6 L1500.3,1056.9 L1503.2,1057.2 L1506.2,1057.5 L1509.2,1057.7 L1512.2,1057.9 L1515.2,1058.1 L1518.2,1058.2 L1521.1,1058.3 L1524.1,1058.3 L1527.1,1058.3 L1530.1,1058.3 L1533.1,1058.2 L1536.1,1058.1 L1539.1,1058.0 L1542.1,1057.9 L1545.1,1057.7 L1548.1,1057.5 L1551.1,1057.3 L1554.1,1057.0 L1557.1,1056.8 L1560.1,1056.5 L1563.1,1056.3 L1566.0,1056.0 L1569.0,1055.7 L1572.0,1055.5 L1575.0,1055.2 L1578.0,1054.9 L1581.0,1054.7 L1584.0,1054.5 L1587.0,1054.2 L1590.0,1054.0 L1593.0,1053.9 L1596.0,1053.7 L1599.0,1053.6 L1602.0,1053.4 L1605.0,1053.4 L1607.9,1053.3 L1610.9,1053.3 L1613.9,1053.3 L1616.9,1053.3 L1619.9,1053.4 L1622.9,1053.5 L1625.8,1053.7 L1628.8,1053.9 L1631.8,1054.1 L1634.8,1054.4 L1637.7,1054.7 L1640.7,1055.0 L1643.7,1055.3 L1646.6,1055.7 L1649.6,1056.1 L1652.6,1056.4 L1655.5,1056.8 L1658.5,1057.3 L1661.5,1057.7 L1664.4,1058.1 L1667.4,1058.6 L1670.3,1059.0 L1673.3,1059.4 L1676.3,1059.9 L1679.2,1060.3 L1682.2,1060.7 L1685.2,1061.2 L1688.1,1061.6 L1691.1,1062.0 L1694.1,1062.4 L1697.0,1062.8 L1700.0,1063.2 L1703.0,1063.6 L1705.9,1064.0 L1708.9,1064.4 L1711.9,1064.8 L1714.8,1065.2 L1717.8,1065.5 L1720.8,1065.9 L1723.7,1066.3 L1726.7,1066.7 L1729.7,1067.0 L1732.6,1067.4 L1735.6,1067.8 L1738.6,1068.1 L1741.5,1068.5 L1744.5,1068.9 L1747.5,1069.2 L1750.5,1069.6 L1753.4,1070.0 L1756.4,1070.3 L1759.4,1070.7 L1762.3,1071.1 L1765.3,1071.4 L1768.3,1071.8 L1771.2,1072.1 L1774.2,1072.5 L1777.2,1072.8 L1778.5,1073.0 L1786.5,1073.0" stroke="#ff0000" stroke-width="11.6"/>
<path d="M185.9,1122.7 L193.9,1122.7 L196.9,1122.2 L199.8,1121.7 L202.8,1121.3 L205.7,1120.8 L208.7,1120.4 L211.6,1119.9 L214.6,1119.5 L217.5,1119.2 L220.5,1118.8 L223.4,1118.5 L226.4,1118.3 L229.4,1118.0 L232.4,1117.8 L235.3,1117.7 L238.3,1117.5 L241.3,1117.4 L244.3,1117.3 L247.3,1117.3 L250.3,1117.2 L253.3,1117.2 L256.3,1117.1 L259.3,1117.1 L262.3,1117.0 L265.3,1117.0 L268.3,1116.9 L271.3,1116.8 L274.2,1116.6 L277.2,1116.4 L280.2,1116.2 L283.2,1116.0 L286.2,1115.7 L289.1,1115.4 L292.1,1115.0 L295.1,1114.6 L298.0,1114.2 L301.0,1113.7 L303.9,1113.2 L306.8,1112.6 L309.8,1112.0 L312.7,1111.4 L315.6,1110.8 L318.5,1110.1 L321.4,1109.4 L324.3,1108.7 L327.2,1108.0 L330.1,1107.2 L332.9,1106.4 L335.8,1105.5 L338.6,1104.6 L341.4,1103.7 L344.2,1102.8 L347.0,1101.8 L349.8,1100.8 L352.5,1099.7 L355.2,1098.6 L357.8,1097.4 L360.5,1096.2 L363.1,1095.0 L365.6,1093.7 L368.1,1092.3 L370.6,1090.9 L373.0,1089.5 L375.4,1087.9 L377.7,1086.4 L380.0,1084.8 L382.2,1083.1 L384.4,1081.4 L386.5,1079.6 L388.5,1077.8 L390.5,1075.9 L392.5,1074.0 L394.4,1072.1 L396.2,1070.1 L398.0,1068.1 L399.8,1066.0 L401.5,1064.0 L403.2,1061.9 L404.8,1059.7 L406.4,1057.6 L408.0,1055.4 L409.5,1053.2 L411.0,1050.9 L412.5,1048.7 L414.0,1046.5 L415.4,1044.2 L416.8,1041.9 L418.2,1039.6 L419.6,1037.3 L420.9,1035.0 L422.3,1032.7 L423.6,1030.3 L424.9,1028.0 L426.1,1025.6 L427.4,1023.3 L428.6,1020.9 L429.8,1018.5 L431.0,1016.2 L432.2,1013.8 L433.4,1011.4 L434.6,1009.0 L435.7,1006.6 L436.8,1004.2 L438.0,1001.8 L439.1,999.4 L440.2,997.0 L441.3,994.6 L442.3,992.2 L443.4,989.8 L444.4,987.3 L445.5,984.9 L446.5,982.5 L447.5,980.1 L448.5,977.6 L449.5,975.2 L450.4,972.8 L451.4,970.3 L452.4,967.9 L453.3,965.5 L454.2,963.0 L455.1,960.6 L456.0,958.1 L456.9,955.7 L457.8,953.2 L458.7,950.8 L459.6,948.3 L460.4,945.9 L461.2,943.4 L462.1,940.9 L462.9,938.5 L463.7,936.0 L464.5,933.5 L465.3,931.1 L466.1,928.6 L466.9,926.1 L467.6,923.6 L468.4,921.2 L469.1,918.7 L469.8,916.2 L470.5,913.7 L471.2,911.2 L471.9,908.7 L472.6,906.2 L473.3,903.7 L474.0,901.2 L474.6,898.7 L475.3,896.2 L475.9,893.7 L476.5,891.2 L477.2,888.7 L477.8,886.2 L478.4,883.7 L479.0,881.2 L479.6,878.7 L480.2,876.2 L480.8,873.6 L481.4,871.1 L482.0,868.6 L482.5,866.1 L483.1,863.6 L483.7,861.1 L484.2,858.5 L484.8,856.0 L485.4,853.5 L485.9,851.0 L486.5,848.5 L487.0,845.9 L487.6,843.4 L488.1,840.9 L488.6,838.4 L489.2,835.8 L489.7,833.3 L490.2,830.8 L490.7,828.3 L491.3,825.7 L491.8,823.2 L492.3,820.7 L492.8,818.2 L493.3,815.6 L493.8,813.1 L494.3,810.6 L494.8,808.1 L495.3,805.5 L495.8,803.0 L496.3,800.5 L496.8,797.9 L497.3,795.4 L497.8,792.9 L498.3,790.4 L498.8,787.8 L499.3,785.3 L499.8,782.8 L500.3,780.2 L500.8,777.7 L501.3,775.2 L501.8,772.7 L502.3,770.1 L502.8,767.6 L503.3,765.1 L503.8,762.5 L504.3,760.0 L504.8,757.5 L505.4,755.0 L505.9,752.4 L506.4,749.9 L506.9,747.4 L507.4,744.9 L507.9,742.3 L508.4,739.8 L508.9,737.3 L509.5,734.8 L510.0,732.2 L510.5,729.7 L511.0,727.2 L511.5,724.7 L512.0,722.1 L512.6,719.6 L513.1,717.1 L513.6,714.5 L514.1,712.0 L514.6,709.5 L515.1,707.0 L515.6,704.4 L516.2,701.9 L516.7,699.4 L517.2,696.9 L517.7,694.3 L518.2,691.8 L518.7,689.3 L519.2,686.8 L519.7,684.2 L520.2,681.7 L520.7,679.2 L521.2,676.6 L521.6,674.1 L522.1,671.6 L522.6,669.0 L523.1,666.5 L523.6,664.0 L524.1,661.5 L524.6,658.9 L525.0,656.4 L525.5,653.9 L526.0,651.3 L526.5,648.8 L526.9,646.3 L527.4,643.7 L527.9,641.2 L528.4,638.7 L528.8,636.1 L529.3,633.6 L529.7,631.1 L530.2,628.5 L530.7,626.0 L531.1,623.5 L531.6,620.9 L532.0,618.4 L532.5,615.9 L532.9,613.3 L533.3,610.8 L533.8,608.3 L534.2,605.7 L534.6,603.2 L535.1,600.6 L535.5,598.1 L535.9,595.6 L536.4,593.0 L536.8,590.5 L537.2,588.0 L537.7,585.4 L538.1,582.9 L538.5,580.3 L538.9,577.8 L539.4,575.3 L539.8,572.7 L540.2,570.2 L540.7,567.7 L541.1,565.1 L541.5,562.6 L541.9,560.0 L542.4,557.5 L542.8,555.0 L543.2,552.4 L543.7,549.9 L544.1,547.4 L544.5,544.8 L545.0,542.3 L545.4,539.8 L545.9,537.2 L546.3,534.7 L546.8,532.2 L547.2,529.6 L547.7,527.1 L548.2,524.6 L548.6,522.0 L549.1,519.5 L549.6,517.0 L550.1,514.4 L550.5,511.9 L551.0,509.4 L551.5,506.9 L552.0,504.3 L552.5,501.8 L553.0,499.3 L553.5,496.8 L554.1,494.3 L554.6,491.7 L555.1,489.2 L555.6,486.7 L556.2,484.2 L556.7,481.6 L557.3,479.1 L557.8,476.6 L558.4,474.1 L558.9,471.6 L559.5,469.0 L560.1,466.5 L560.6,464.0 L561.2,461.5 L561.8,459.0 L562.4,456.4 L563.0,453.9 L563.5,451.4 L564.1,448.8 L564.7,446.3 L565.3,443.8 L565.9,441.2 L566.6,438.7 L567.2,436.2 L567.8,433.6 L568.4,431.1 L569.1,428.5 L569.7,426.0 L570.4,423.4 L571.1,420.9 L571.7,418.3 L572.5,415.8 L573.2,413.2 L573.9,410.7 L574.7,408.1 L575.5,405.6 L576.3,403.0 L577.2,400.5 L578.0,397.9 L579.0,395.4 L580.0,392.9 L581.0,390.4 L582.1,387.9 L583.2,385.4 L584.5,383.0 L585.8,380.6 L587.2,378.2 L588.6,375.9 L590.2,373.7 L592.0,371.5 L593.8,369.4 L595.8,367.5 L597.9,365.8 L600.0,364.4 L602.2,363.5 L604.5,363.0 L606.8,363.1 L609.1,363.7 L611.3,364.7 L613.5,366.1 L615.6,367.8 L617.7,369.7 L619.6,371.8 L621.4,373.9 L623.0,376.2 L624.6,378.5 L626.1,380.9 L627.5,383.2 L628.8,385.7 L630.1,388.1 L631.3,390.6 L632.4,393.1 L633.5,395.6 L634.5,398.1 L635.5,400.6 L636.5,403.1 L637.4,405.7 L638.3,408.2 L639.1,410.7 L639.9,413.3 L640.7,415.8 L641.5,418.3 L642.3,420.9 L643.0,423.4 L643.7,426.0 L644.4,428.5 L645.1,431.0 L645.8,433.6 L646.5,436.1 L647.2,438.6 L647.9,441.1 L648.6,443.7 L649.2,446.2 L649.9,448.7 L650.6,451.2 L651.2,453.7 L651.9,456.2 L652.6,458.8 L653.3,461.3 L653.9,463.8 L654.6,466.3 L655.3,468.8 L656.0,471.3 L656.7,473.8 L657.4,476.3 L658.1,478.7 L658.8,481.2 L659.5,483.7 L660.2,486.2 L660.9,488.7 L661.6,491.2 L662.3,493.7 L663.0,496.2 L663.7,498.7 L664.5,501.1 L665.2,503.6 L665.9,506.1 L666.6,508.6 L667.3,511.1 L668.1,513.6 L668.8,516.1 L669.5,518.5 L670.2,521.0 L671.0,523.5 L671.7,526.0 L672.4,528.5 L673.1,531.0 L673.8,533.5 L674.6,535.9 L675.3,538.4 L676.0,540.9 L676.7,543.4 L677.4,545.9 L678.1,548.4 L678.8,550.9 L679.5,553.4 L680.2,555.9 L680.9,558.4 L681.6,560.9 L682.3,563.4 L683.0,565.8 L683.6,568.3 L684.3,570.8 L685.0,573.3 L685.7,575.8 L686.3,578.3 L687.0,580.8 L687.6,583.3 L688.3,585.8 L688.9,588.4 L689.6,590.9 L690.2,593.4 L690.8,595.9 L691.5,598.4 L692.1,600.9 L692.7,603.4 L693.3,605.9 L694.0,608.4 L694.6,610.9 L695.2,613.4 L695.8,615.9 L696.4,618.5 L697.0,621.0 L697.6,623.5 L698.2,626.0 L698.8,628.5 L699.4,631.0 L700.0,633.5 L700.6,636.0 L701.2,638.6 L701.8,641.1 L702.4,643.6 L703.0,646.1 L703.6,648.6 L704.1,651.1 L704.7,653.6 L705.3,656.2 L705.9,658.7 L706.5,661.2 L707.1,663.7 L707.7,666.2 L708.3,668.7 L708.9,671.2 L709.5,673.8 L710.1,676.3 L710.7,678.8 L711.3,681.3 L711.9,683.8 L712.5,686.3 L713.2,688.8 L713.8,691.3 L714.5,693.8 L715.1,696.3 L715.8,698.8 L716.4,701.3 L717.1,703.8 L717.8,706.3 L718.5,708.8 L719.2,711.3 L719.9,713.8 L720.6,716.2 L721.3,718.7 L722.1,721.2 L722.8,723.7 L723.6,726.2 L724.3,728.6 L725.1,731.1 L725.9,733.6 L726.7,736.1 L727.5,738.5 L728.3,741.0 L729.1,743.5 L729.9,745.9 L730.7,748.4 L731.5,750.9 L732.4,753.3 L733.2,755.8 L734.1,758.2 L735.0,760.7 L735.8,763.1 L736.7,765.6 L737.6,768.0 L738.5,770.5 L739.4,772.9 L740.3,775.4 L741.2,777.8 L742.2,780.3 L743.1,782.7 L744.0,785.2 L744.9,787.6 L745.9,790.1 L746.8,792.5 L747.8,795.0 L748.7,797.4 L749.7,799.9 L750.6,802.3 L751.6,804.8 L752.6,807.2 L753.6,809.7 L754.6,812.1 L755.6,814.6 L756.6,817.0 L757.6,819.5 L758.6,821.9 L759.7,824.3 L760.8,826.8 L761.9,829.2 L763.0,831.6 L764.1,834.1 L765.3,836.5 L766.5,838.9 L767.7,841.3 L768.9,843.6 L770.2,846.0 L771.5,848.4 L772.9,850.7 L774.3,853.0 L775.7,855.3 L777.2,857.6 L778.7,859.8 L780.3,862.0 L782.0,864.2 L783.7,866.4 L785.5,868.5 L787.3,870.5 L789.3,872.5 L791.3,874.5 L793.3,876.3 L795.5,878.1 L797.7,879.8 L800.0,881.5 L802.3,883.0 L804.8,884.4 L807.3,885.7 L809.9,886.8 L812.6,887.8 L815.3,888.6 L818.0,889.1 L820.8,889.5 L823.6,889.7 L826.4,889.6 L829.2,889.2 L832.0,888.7 L834.7,887.9 L837.4,887.0 L840.0,885.9 L842.5,884.7 L845.0,883.3 L847.4,881.8 L849.7,880.2 L852.0,878.6 L854.2,876.8 L856.3,875.0 L858.4,873.1 L860.4,871.1 L862.4,869.1 L864.3,867.1 L866.1,865.0 L867.9,862.9 L869.7,860.7 L871.4,858.6 L873.0,856.4 L874.7,854.1 L876.2,851.9 L877.8,849.7 L879.3,847.4 L880.7,845.1 L882.2,842.8 L883.6,840.5 L884.9,838.1 L886.2,835.8 L887.5,833.5 L888.8,831.1 L890.0,828.7 L891.2,826.4 L892.4,824.0 L893.6,821.6 L894.7,819.2 L895.8,816.8 L896.9,814.4 L897.9,812.0 L899.0,809.6 L900.0,807.1 L901.0,804.7 L902.0,802.3 L903.0,799.8 L903.9,797.4 L904.9,795.0 L905.8,792.5 L906.7,790.1 L907.7,787.6 L908.6,785.2 L909.5,782.7 L910.4,780.3 L911.3,777.8 L912.3,775.4 L913.2,772.9 L914.1,770.5 L915.0,768.0 L915.9,765.6 L916.8,763.1 L917.7,760.7 L918.6,758.2 L919.5,755.8 L920.4,753.3 L921.3,750.9 L922.2,748.4 L923.1,746.0 L923.9,743.5 L924.8,741.1 L925.7,738.6 L926.6,736.2 L927.5,733.7 L928.3,731.3 L929.2,728.8 L930.1,726.4 L930.9,723.9 L931.8,721.5 L932.7,719.0 L933.5,716.6 L934.4,714.1 L935.2,711.7 L936.1,709.2 L936.9,706.7 L937.8,704.3 L938.6,701.8 L939.4,699.4 L940.3,696.9 L941.1,694.4 L941.9,692.0 L942.8,689.5 L943.6,687.1 L944.4,684.6 L945.3,682.1 L946.1,679.7 L946.9,677.2 L947.7,674.8 L948.6,672.3 L949.4,669.8 L950.2,667.4 L951.0,664.9 L951.9,662.5 L952.7,660.0 L953.5,657.5 L954.4,655.1 L955.2,652.6 L956.0,650.2 L956.9,647.7 L957.7,645.2 L958.5,642.8 L959.4,640.3 L960.2,637.9 L961.1,635.4 L961.9,632.9 L962.8,630.5 L963.7,628.0 L964.5,625.5 L965.4,623.1 L966.3,620.6 L967.2,618.1 L968.1,615.7 L969.0,613.2 L969.9,610.7 L970.8,608.3 L971.7,605.8 L972.7,603.3 L973.6,600.9 L974.6,598.4 L975.6,595.9 L976.5,593.4 L977.5,590.9 L978.5,588.4 L979.5,586.0 L980.6,583.5 L981.6,581.0 L982.7,578.5 L983.7,576.0 L984.8,573.5 L985.9,571.0 L987.0,568.5 L988.2,566.0 L989.3,563.6 L990.5,561.1 L991.8,558.6 L993.0,556.2 L994.3,553.8 L995.6,551.4 L997.0,549.0 L998.4,546.6 L999.9,544.3 L1001.5,542.0 L1003.1,539.8 L1004.7,537.6 L1006.5,535.5 L1008.3,533.5 L1010.2,531.6 L1012.2,529.8 L1014.3,528.1 L1016.5,526.7 L1018.9,525.4 L1021.3,524.3 L1023.8,523.5 L1026.4,523.0 L1029.0,522.8 L1031.6,523.0 L1034.2,523.5 L1036.8,524.3 L1039.3,525.4 L1041.6,526.7 L1043.9,528.1 L1046.1,529.8 L1048.1,531.6 L1050.1,533.5 L1051.9,535.5 L1053.7,537.6 L1055.4,539.7 L1056.9,541.9 L1058.4,544.2 L1059.9,546.5 L1061.2,548.8 L1062.5,551.2 L1063.8,553.6 L1065.0,556.1 L1066.1,558.5 L1067.2,561.0 L1068.3,563.5 L1069.3,566.0 L1070.3,568.5 L1071.3,571.0 L1072.2,573.5 L1073.1,576.1 L1074.0,578.6 L1074.9,581.1 L1075.7,583.7 L1076.6,586.2 L1077.4,588.7 L1078.2,591.3 L1079.0,593.8 L1079.8,596.3 L1080.6,598.9 L1081.4,601.4 L1082.2,603.9 L1083.0,606.4 L1083.8,609.0 L1084.5,611.5 L1085.3,614.0 L1086.1,616.5 L1086.9,619.0 L1087.6,621.5 L1088.4,624.0 L1089.2,626.5 L1089.9,629.0 L1090.7,631.5 L1091.5,634.0 L1092.2,636.5 L1093.0,638.9 L1093.8,641.4 L1094.5,643.9 L1095.3,646.4 L1096.0,648.9 L1096.8,651.4 L1097.6,653.8 L1098.3,656.3 L1099.1,658.8 L1099.9,661.3 L1100.6,663.8 L1101.4,666.2 L1102.2,668.7 L1102.9,671.2 L1103.7,673.7 L1104.4,676.1 L1105.2,678.6 L1106.0,681.1 L1106.7,683.6 L1107.5,686.1 L1108.2,688.5 L1109.0,691.0 L1109.7,693.5 L1110.5,696.0 L1111.2,698.4 L1112.0,700.9 L1112.7,703.4 L1113.5,705.9 L1114.2,708.4 L1115.0,710.8 L1115.7,713.3 L1116.5,715.8 L1117.2,718.3 L1117.9,720.8 L1118.7,723.3 L1119.4,725.7 L1120.1,728.2 L1120.9,730.7 L1121.6,733.2 L1122.3,735.7 L1123.1,738.2 L1123.8,740.6 L1124.6,743.1 L1125.3,745.6 L1126.1,748.1 L1126.8,750.6 L1127.6,753.0 L1128.3,755.5 L1129.1,758.0 L1129.9,760.5 L1130.7,762.9 L1131.5,765.4 L1132.3,767.9 L1133.1,770.3 L1133.9,772.8 L1134.7,775.3 L1135.5,777.7 L1136.3,780.2 L1137.2,782.7 L1138.0,785.1 L1138.8,787.6 L1139.7,790.0 L1140.5,792.5 L1141.3,795.0 L1142.2,797.4 L1143.0,799.9 L1143.8,802.3 L1144.7,804.8 L1145.5,807.3 L1146.4,809.7 L1147.2,812.2 L1148.0,814.6 L1148.9,817.1 L1149.7,819.6 L1150.6,822.0 L1151.4,824.5 L1152.3,826.9 L1153.2,829.4 L1154.0,831.8 L1154.9,834.3 L1155.8,836.7 L1156.7,839.2 L1157.6,841.6 L1158.5,844.1 L1159.4,846.5 L1160.3,849.0 L1161.2,851.4 L1162.2,853.9 L1163.1,856.3 L1164.0,858.7 L1165.0,861.2 L1166.0,863.6 L1166.9,866.0 L1167.9,868.4 L1168.9,870.9 L1169.9,873.3 L1170.9,875.7 L1171.9,878.1 L1173.0,880.5 L1174.0,882.9 L1175.0,885.4 L1176.1,887.8 L1177.2,890.2 L1178.3,892.6 L1179.4,894.9 L1180.5,897.3 L1181.6,899.7 L1182.7,902.1 L1183.8,904.5 L1185.0,906.9 L1186.2,909.2 L1187.3,911.6 L1188.5,913.9 L1189.8,916.3 L1191.0,918.6 L1192.2,921.0 L1193.5,923.3 L1194.8,925.6 L1196.1,928.0 L1197.4,930.3 L1198.7,932.6 L1200.1,934.9 L1201.5,937.1 L1202.9,939.4 L1204.3,941.7 L1205.7,943.9 L1207.2,946.2 L1208.7,948.4 L1210.2,950.6 L1211.8,952.8 L1213.3,955.0 L1214.9,957.2 L1216.5,959.4 L1218.2,961.5 L1219.9,963.6 L1221.6,965.7 L1223.3,967.8 L1225.1,969.9 L1226.9,972.0 L1228.7,974.0 L1230.6,976.0 L1232.4,978.0 L1234.4,980.0 L1236.3,981.9 L1238.3,983.9 L1240.3,985.8 L1242.3,987.6 L1244.4,989.5 L1246.5,991.3 L1248.6,993.1 L1250.8,994.8 L1253.0,996.5 L1255.2,998.2 L1257.5,999.8 L1259.8,1001.4 L1262.1,1003.0 L1264.5,1004.5 L1266.9,1006.0 L1269.3,1007.4 L1271.8,1008.8 L1274.3,1010.1 L1276.9,1011.4 L1279.5,1012.6 L1282.1,1013.8 L1284.8,1015.0 L1287.4,1016.2 L1290.1,1017.3 L1292.8,1018.4 L1295.5,1019.5 L1298.3,1020.5 L1301.0,1021.6 L1303.7,1022.7 L1306.5,1023.7 L1309.2,1024.8 L1312.0,1025.8 L1314.7,1026.9 L1317.5,1027.9 L1320.2,1029.0 L1323.0,1030.1 L1325.7,1031.1 L1328.4,1032.2 L1331.1,1033.3 L1333.8,1034.4 L1336.5,1035.6 L1339.2,1036.7 L1341.9,1037.9 L1344.6,1039.0 L1347.3,1040.2 L1349.9,1041.4 L1352.6,1042.6 L1355.2,1043.8 L1357.9,1045.0 L1360.5,1046.2 L1363.1,1047.5 L1365.8,1048.7 L1368.4,1049.9 L1371.0,1051.1 L1373.7,1052.4 L1376.3,1053.6 L1379.0,1054.8 L1381.6,1055.9 L1384.3,1057.1 L1387.0,1058.3 L1389.6,1059.4 L1392.3,1060.5 L1395.0,1061.6 L1397.7,1062.7 L1400.5,1063.8 L1403.2,1064.8 L1406.0,1065.9 L1408.7,1066.9 L1411.5,1067.9 L1414.2,1068.9 L1417.0,1069.8 L1419.8,1070.8 L1422.6,1071.8 L1425.4,1072.7 L1428.2,1073.6 L1431.0,1074.6 L1433.8,1075.5 L1436.6,1076.4 L1439.4,1077.3 L1442.2,1078.2 L1445.1,1079.0 L1447.9,1079.9 L1450.7,1080.7 L1453.6,1081.5 L1456.4,1082.3 L1459.3,1083.0 L1462.2,1083.7 L1465.1,1084.4 L1467.9,1085.1 L1470.8,1085.8 L1473.8,1086.4 L1476.7,1087.0 L1479.6,1087.6 L1482.5,1088.1 L1485.4,1088.6 L1488.4,1089.1 L1491.3,1089.6 L1494.3,1090.0 L1497.2,1090.4 L1500.2,1090.8 L1503.2,1091.1 L1506.1,1091.5 L1509.1,1091.8 L1512.1,1092.0 L1515.1,1092.3 L1518.1,1092.5 L1521.1,1092.7 L1524.1,1092.9 L1527.0,1093.1 L1530.0,1093.2 L1533.0,1093.4 L1536.0,1093.5 L1539.0,1093.7 L1542.0,1093.8 L1545.0,1093.9 L1548.0,1094.0 L1551.0,1094.2 L1554.0,1094.3 L1557.0,1094.5 L1560.0,1094.6 L1563.0,1094.8 L1566.0,1094.9 L1569.0,1095.1 L1572.0,1095.3 L1575.0,1095.5 L1578.0,1095.7 L1581.0,1096.0 L1583.9,1096.2 L1586.9,1096.5 L1589.9,1096.8 L1592.9,1097.0 L1595.9,1097.4 L1598.8,1097.7 L1601.8,1098.0 L1604.8,1098.3 L1607.8,1098.7 L1610.7,1099.1 L1613.7,1099.4 L1616.7,1099.8 L1619.6,1100.2 L1622.6,1100.6 L1625.6,1101.0 L1628.5,1101.5 L1631.5,1101.9 L1634.4,1102.3 L1637.4,1102.8 L1640.3,1103.2 L1643.3,1103.7 L1646.2,1104.2 L1649.2,1104.7 L1652.1,1105.2 L1655.1,1105.7 L1658.0,1106.2 L1660.9,1106.7 L1663.9,1107.3 L1666.8,1107.8 L1669.7,1108.4 L1672.7,1108.9 L1675.6,1109.5 L1678.5,1110.1 L1681.4,1110.7 L1684.3,1111.3 L1687.2,1111.9 L1690.2,1112.5 L1693.1,1113.2 L1696.0,1113.8 L1698.9,1114.4 L1701.8,1115.1 L1704.7,1115.7 L1707.6,1116.4 L1710.5,1117.0 L1713.4,1117.7 L1716.3,1118.3 L1719.2,1119.0 L1722.1,1119.6 L1725.0,1120.3 L1727.9,1120.9 L1730.8,1121.5 L1733.7,1122.2 L1736.6,1122.8 L1739.5,1123.4 L1742.4,1124.1 L1745.4,1124.7 L1748.3,1125.3 L1751.2,1126.0 L1754.1,1126.6 L1757.0,1127.2 L1759.9,1127.8 L1762.8,1128.5 L1765.7,1129.1 L1768.6,1129.7 L1771.5,1130.3 L1774.5,1131.0 L1777.4,1131.6 L1778.5,1131.8 L1786.5,1131.8" stroke="#00ff00" stroke-width="11.6"/>
</g></g>
<g fill="none" stroke-linecap="round" stroke-width="13">
<line x1="1531.4" y1="305.0" x2="1678.6" y2="305.0" stroke="#000000"/>
<line x1="1531.4" y1="387.2" x2="1678.6" y2="387.2" stroke="#0000ff"/>
<line x1="1531.4" y1="468.9" x2="1678.6" y2="468.9" stroke="#ff0000"/>
<line x1="1531.4" y1="549.6" x2="1678.6" y2="549.6" stroke="#00ff00"/>
</g>
<g font-family="'Liberation Sans', sans-serif" fill="#000000">
<text x="1695.6" y="327.9" font-size="68.5">2</text>
<text x="1695.6" y="410.1" font-size="68.5">3</text>
<text x="1695.6" y="491.8" font-size="68.5">4</text>
<text x="1695.6" y="572.5" font-size="68.5">5</text>
<g font-size="59.5" text-anchor="middle" stroke="#ffffff" stroke-width="0.45">
<text transform="translate(193.7,1571.6) scale(0.909,1)">3500</text>
<text transform="translate(457.7,1571.6) scale(0.909,1)">3450</text>
<text transform="translate(721.8,1571.6) scale(0.909,1)">3400</text>
<text transform="translate(985.8,1571.6) scale(0.909,1)">3350</text>
<text transform="translate(1249.8,1571.6) scale(0.909,1)">3300</text>
<text transform="translate(1513.9,1571.6) scale(0.909,1)">3250</text>
<text transform="translate(1777.9,1571.6) scale(0.909,1)">3200</text>
</g>
<text y="1685.3" font-size="66.6"><tspan x="688.8">Wavenumber (cm</tspan><tspan x="1210" dy="-25.8" font-size="47.5">−1</tspan><tspan x="1263.4" dy="25.8">)</tspan></text>
<text transform="translate(123.6,1101.6) rotate(-90)" font-size="66.6" textLength="511" lengthAdjust="spacing">Apsorbance (AU)</text>
</g>
</svg>
</body>
</html>
